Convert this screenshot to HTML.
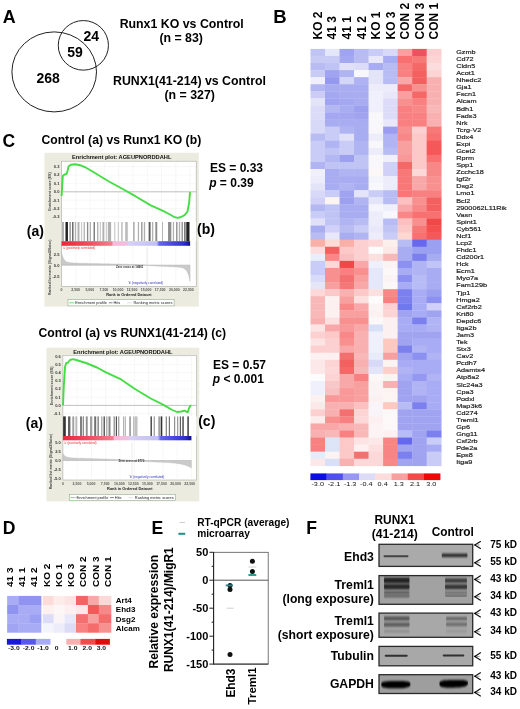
<!DOCTYPE html>
<html><head><meta charset="utf-8"><title>Figure</title>
<style>
html,body{margin:0;padding:0;background:#fff;}
body{width:520px;height:709px;overflow:hidden;font-family:'Liberation Sans', sans-serif;}
svg{display:block;will-change:transform;}
</style></head>
<body>
<svg width="520" height="709" viewBox="0 0 520 709" font-family="'Liberation Sans', sans-serif">
<rect width="520" height="709" fill="#fff"/>
<text x="2.8" y="22.8" font-size="17.9" font-weight="bold">A</text>
<text x="273.3" y="22.9" font-size="18.5" font-weight="bold">B</text>
<text x="2.6" y="147.4" font-size="17.5" font-weight="bold">C</text>
<text x="2.7" y="534" font-size="17.6" font-weight="bold">D</text>
<text x="151.5" y="534" font-size="17.6" font-weight="bold">E</text>
<text x="306.3" y="534" font-size="17.6" font-weight="bold">F</text>
<ellipse cx="83.35" cy="45.35" rx="25.1" ry="24.8" fill="none" stroke="#222" stroke-width="1"/>
<ellipse cx="54.2" cy="71.9" rx="42.3" ry="40.0" fill="none" stroke="#222" stroke-width="1"/>
<text x="91.2" y="41.3" font-size="14" font-weight="bold" text-anchor="middle">24</text>
<text x="75" y="56.8" font-size="14" font-weight="bold" text-anchor="middle">59</text>
<text x="48.1" y="83" font-size="14" font-weight="bold" text-anchor="middle">268</text>
<text x="181.7" y="27.5" font-size="12.35" font-weight="bold" text-anchor="middle">Runx1 KO vs Control</text>
<text x="181.2" y="41.5" font-size="12.35" font-weight="bold" text-anchor="middle">(n = 83)</text>
<text x="189.5" y="85.2" font-size="12.35" font-weight="bold" text-anchor="middle">RUNX1(41-214) vs Control</text>
<text x="189.7" y="99.2" font-size="12.35" font-weight="bold" text-anchor="middle">(n = 327)</text>
<rect x="310.50" y="48.90" width="14.82" height="7.37" fill="#c0c4f4"/>
<rect x="325.02" y="48.90" width="14.82" height="7.37" fill="#e4e6fa"/>
<rect x="339.54" y="48.90" width="14.82" height="7.37" fill="#a0a4f0"/>
<rect x="354.07" y="48.90" width="14.82" height="7.37" fill="#b8bcf4"/>
<rect x="368.59" y="48.90" width="14.82" height="7.37" fill="#c8ccf6"/>
<rect x="383.11" y="48.90" width="14.82" height="7.37" fill="#d8d8f8"/>
<rect x="397.63" y="48.90" width="14.82" height="7.37" fill="#f8a0a0"/>
<rect x="412.16" y="48.90" width="14.82" height="7.37" fill="#f05060"/>
<rect x="426.68" y="48.90" width="14.82" height="7.37" fill="#fcd0d0"/>
<rect x="310.50" y="55.97" width="14.82" height="7.37" fill="#c8ccf4"/>
<rect x="325.02" y="55.97" width="14.82" height="7.37" fill="#c8ccf4"/>
<rect x="339.54" y="55.97" width="14.82" height="7.37" fill="#a4a8f0"/>
<rect x="354.07" y="55.97" width="14.82" height="7.37" fill="#b8bcf2"/>
<rect x="368.59" y="55.97" width="14.82" height="7.37" fill="#e8e8fa"/>
<rect x="383.11" y="55.97" width="14.82" height="7.37" fill="#a8acf2"/>
<rect x="397.63" y="55.97" width="14.82" height="7.37" fill="#f87070"/>
<rect x="412.16" y="55.97" width="14.82" height="7.37" fill="#f87878"/>
<rect x="426.68" y="55.97" width="14.82" height="7.37" fill="#fcd4d4"/>
<rect x="310.50" y="63.03" width="14.82" height="7.37" fill="#b8bcf2"/>
<rect x="325.02" y="63.03" width="14.82" height="7.37" fill="#c0c4f4"/>
<rect x="339.54" y="63.03" width="14.82" height="7.37" fill="#e0e0f8"/>
<rect x="354.07" y="63.03" width="14.82" height="7.37" fill="#dcdcf8"/>
<rect x="368.59" y="63.03" width="14.82" height="7.37" fill="#a8acf0"/>
<rect x="383.11" y="63.03" width="14.82" height="7.37" fill="#b8bcf4"/>
<rect x="397.63" y="63.03" width="14.82" height="7.37" fill="#f88080"/>
<rect x="412.16" y="63.03" width="14.82" height="7.37" fill="#f56868"/>
<rect x="426.68" y="63.03" width="14.82" height="7.37" fill="#fcdcdc"/>
<rect x="310.50" y="70.10" width="14.82" height="7.37" fill="#c8ccf4"/>
<rect x="325.02" y="70.10" width="14.82" height="7.37" fill="#a0a4f0"/>
<rect x="339.54" y="70.10" width="14.82" height="7.37" fill="#b0b4f2"/>
<rect x="354.07" y="70.10" width="14.82" height="7.37" fill="#f8f8fc"/>
<rect x="368.59" y="70.10" width="14.82" height="7.37" fill="#e4e4f8"/>
<rect x="383.11" y="70.10" width="14.82" height="7.37" fill="#b8bcf4"/>
<rect x="397.63" y="70.10" width="14.82" height="7.37" fill="#f88080"/>
<rect x="412.16" y="70.10" width="14.82" height="7.37" fill="#f46060"/>
<rect x="426.68" y="70.10" width="14.82" height="7.37" fill="#fcd4d4"/>
<rect x="310.50" y="77.16" width="14.82" height="7.37" fill="#f0f0fc"/>
<rect x="325.02" y="77.16" width="14.82" height="7.37" fill="#9498ee"/>
<rect x="339.54" y="77.16" width="14.82" height="7.37" fill="#d4d6f8"/>
<rect x="354.07" y="77.16" width="14.82" height="7.37" fill="#aeb2f2"/>
<rect x="368.59" y="77.16" width="14.82" height="7.37" fill="#e4e4f8"/>
<rect x="383.11" y="77.16" width="14.82" height="7.37" fill="#b8bcf4"/>
<rect x="397.63" y="77.16" width="14.82" height="7.37" fill="#f8a8a8"/>
<rect x="412.16" y="77.16" width="14.82" height="7.37" fill="#f46060"/>
<rect x="426.68" y="77.16" width="14.82" height="7.37" fill="#f8b0b0"/>
<rect x="310.50" y="84.23" width="14.82" height="7.37" fill="#b4b8f2"/>
<rect x="325.02" y="84.23" width="14.82" height="7.37" fill="#a8acf0"/>
<rect x="339.54" y="84.23" width="14.82" height="7.37" fill="#a8acf0"/>
<rect x="354.07" y="84.23" width="14.82" height="7.37" fill="#a8acf0"/>
<rect x="368.59" y="84.23" width="14.82" height="7.37" fill="#ececfa"/>
<rect x="383.11" y="84.23" width="14.82" height="7.37" fill="#ececfa"/>
<rect x="397.63" y="84.23" width="14.82" height="7.37" fill="#f46868"/>
<rect x="412.16" y="84.23" width="14.82" height="7.37" fill="#f89090"/>
<rect x="426.68" y="84.23" width="14.82" height="7.37" fill="#f8b0b0"/>
<rect x="310.50" y="91.30" width="14.82" height="7.37" fill="#ccccf6"/>
<rect x="325.02" y="91.30" width="14.82" height="7.37" fill="#a4a8f0"/>
<rect x="339.54" y="91.30" width="14.82" height="7.37" fill="#a8acf0"/>
<rect x="354.07" y="91.30" width="14.82" height="7.37" fill="#a8acf0"/>
<rect x="368.59" y="91.30" width="14.82" height="7.37" fill="#f0f0fc"/>
<rect x="383.11" y="91.30" width="14.82" height="7.37" fill="#e8e8fa"/>
<rect x="397.63" y="91.30" width="14.82" height="7.37" fill="#f8a0a0"/>
<rect x="412.16" y="91.30" width="14.82" height="7.37" fill="#f46868"/>
<rect x="426.68" y="91.30" width="14.82" height="7.37" fill="#f8b0b0"/>
<rect x="310.50" y="98.36" width="14.82" height="7.37" fill="#e4e4f8"/>
<rect x="325.02" y="98.36" width="14.82" height="7.37" fill="#a0a4f0"/>
<rect x="339.54" y="98.36" width="14.82" height="7.37" fill="#a4a8f0"/>
<rect x="354.07" y="98.36" width="14.82" height="7.37" fill="#a8acf0"/>
<rect x="368.59" y="98.36" width="14.82" height="7.37" fill="#f0f0fc"/>
<rect x="383.11" y="98.36" width="14.82" height="7.37" fill="#dcdcf8"/>
<rect x="397.63" y="98.36" width="14.82" height="7.37" fill="#f89090"/>
<rect x="412.16" y="98.36" width="14.82" height="7.37" fill="#f88080"/>
<rect x="426.68" y="98.36" width="14.82" height="7.37" fill="#f8b0b0"/>
<rect x="310.50" y="105.43" width="14.82" height="7.37" fill="#dcdcf8"/>
<rect x="325.02" y="105.43" width="14.82" height="7.37" fill="#b4b8f2"/>
<rect x="339.54" y="105.43" width="14.82" height="7.37" fill="#a8acf0"/>
<rect x="354.07" y="105.43" width="14.82" height="7.37" fill="#9ca0ee"/>
<rect x="368.59" y="105.43" width="14.82" height="7.37" fill="#f0f0fc"/>
<rect x="383.11" y="105.43" width="14.82" height="7.37" fill="#dcdcf8"/>
<rect x="397.63" y="105.43" width="14.82" height="7.37" fill="#f88080"/>
<rect x="412.16" y="105.43" width="14.82" height="7.37" fill="#f88888"/>
<rect x="426.68" y="105.43" width="14.82" height="7.37" fill="#f8b8b8"/>
<rect x="310.50" y="112.49" width="14.82" height="7.37" fill="#dcdcf8"/>
<rect x="325.02" y="112.49" width="14.82" height="7.37" fill="#a4a8f0"/>
<rect x="339.54" y="112.49" width="14.82" height="7.37" fill="#a4a8f0"/>
<rect x="354.07" y="112.49" width="14.82" height="7.37" fill="#a0a4ee"/>
<rect x="368.59" y="112.49" width="14.82" height="7.37" fill="#f8f8fc"/>
<rect x="383.11" y="112.49" width="14.82" height="7.37" fill="#dcdcf8"/>
<rect x="397.63" y="112.49" width="14.82" height="7.37" fill="#f88080"/>
<rect x="412.16" y="112.49" width="14.82" height="7.37" fill="#f88080"/>
<rect x="426.68" y="112.49" width="14.82" height="7.37" fill="#f8b0b0"/>
<rect x="310.50" y="119.56" width="14.82" height="7.37" fill="#d8d8f8"/>
<rect x="325.02" y="119.56" width="14.82" height="7.37" fill="#a8acf0"/>
<rect x="339.54" y="119.56" width="14.82" height="7.37" fill="#a8acf0"/>
<rect x="354.07" y="119.56" width="14.82" height="7.37" fill="#a8acf0"/>
<rect x="368.59" y="119.56" width="14.82" height="7.37" fill="#f8f8fc"/>
<rect x="383.11" y="119.56" width="14.82" height="7.37" fill="#e8e8fa"/>
<rect x="397.63" y="119.56" width="14.82" height="7.37" fill="#f88080"/>
<rect x="412.16" y="119.56" width="14.82" height="7.37" fill="#f88080"/>
<rect x="426.68" y="119.56" width="14.82" height="7.37" fill="#f8b0b0"/>
<rect x="310.50" y="126.63" width="14.82" height="7.37" fill="#d8d8f8"/>
<rect x="325.02" y="126.63" width="14.82" height="7.37" fill="#c8ccf6"/>
<rect x="339.54" y="126.63" width="14.82" height="7.37" fill="#b0b4f2"/>
<rect x="354.07" y="126.63" width="14.82" height="7.37" fill="#a8acf0"/>
<rect x="368.59" y="126.63" width="14.82" height="7.37" fill="#f8f8fc"/>
<rect x="383.11" y="126.63" width="14.82" height="7.37" fill="#9c9cf0"/>
<rect x="397.63" y="126.63" width="14.82" height="7.37" fill="#f89090"/>
<rect x="412.16" y="126.63" width="14.82" height="7.37" fill="#fcd0d0"/>
<rect x="426.68" y="126.63" width="14.82" height="7.37" fill="#f87878"/>
<rect x="310.50" y="133.69" width="14.82" height="7.37" fill="#b8bcf2"/>
<rect x="325.02" y="133.69" width="14.82" height="7.37" fill="#c8ccf6"/>
<rect x="339.54" y="133.69" width="14.82" height="7.37" fill="#e0e0f8"/>
<rect x="354.07" y="133.69" width="14.82" height="7.37" fill="#a8acf0"/>
<rect x="368.59" y="133.69" width="14.82" height="7.37" fill="#ececfa"/>
<rect x="383.11" y="133.69" width="14.82" height="7.37" fill="#b0b4f4"/>
<rect x="397.63" y="133.69" width="14.82" height="7.37" fill="#f88888"/>
<rect x="412.16" y="133.69" width="14.82" height="7.37" fill="#fcc8c8"/>
<rect x="426.68" y="133.69" width="14.82" height="7.37" fill="#f87070"/>
<rect x="310.50" y="140.76" width="14.82" height="7.37" fill="#c8ccf6"/>
<rect x="325.02" y="140.76" width="14.82" height="7.37" fill="#b0b4f2"/>
<rect x="339.54" y="140.76" width="14.82" height="7.37" fill="#c8ccf6"/>
<rect x="354.07" y="140.76" width="14.82" height="7.37" fill="#b0b4f2"/>
<rect x="368.59" y="140.76" width="14.82" height="7.37" fill="#f8f8fc"/>
<rect x="383.11" y="140.76" width="14.82" height="7.37" fill="#b0b4f4"/>
<rect x="397.63" y="140.76" width="14.82" height="7.37" fill="#f8a0a0"/>
<rect x="412.16" y="140.76" width="14.82" height="7.37" fill="#fcc8c8"/>
<rect x="426.68" y="140.76" width="14.82" height="7.37" fill="#f45858"/>
<rect x="310.50" y="147.83" width="14.82" height="7.37" fill="#c8ccf6"/>
<rect x="325.02" y="147.83" width="14.82" height="7.37" fill="#c0c4f4"/>
<rect x="339.54" y="147.83" width="14.82" height="7.37" fill="#c8ccf6"/>
<rect x="354.07" y="147.83" width="14.82" height="7.37" fill="#b0b4f2"/>
<rect x="368.59" y="147.83" width="14.82" height="7.37" fill="#ececfa"/>
<rect x="383.11" y="147.83" width="14.82" height="7.37" fill="#b8bcf4"/>
<rect x="397.63" y="147.83" width="14.82" height="7.37" fill="#f8a0a0"/>
<rect x="412.16" y="147.83" width="14.82" height="7.37" fill="#fcc8c8"/>
<rect x="426.68" y="147.83" width="14.82" height="7.37" fill="#f45858"/>
<rect x="310.50" y="154.89" width="14.82" height="7.37" fill="#c8ccf6"/>
<rect x="325.02" y="154.89" width="14.82" height="7.37" fill="#b4b8f2"/>
<rect x="339.54" y="154.89" width="14.82" height="7.37" fill="#9ca0ee"/>
<rect x="354.07" y="154.89" width="14.82" height="7.37" fill="#c0c4f4"/>
<rect x="368.59" y="154.89" width="14.82" height="7.37" fill="#f8f8fc"/>
<rect x="383.11" y="154.89" width="14.82" height="7.37" fill="#f0f0fc"/>
<rect x="397.63" y="154.89" width="14.82" height="7.37" fill="#f89898"/>
<rect x="412.16" y="154.89" width="14.82" height="7.37" fill="#fcc8c8"/>
<rect x="426.68" y="154.89" width="14.82" height="7.37" fill="#f87070"/>
<rect x="310.50" y="161.96" width="14.82" height="7.37" fill="#b0b4f2"/>
<rect x="325.02" y="161.96" width="14.82" height="7.37" fill="#c0c4f4"/>
<rect x="339.54" y="161.96" width="14.82" height="7.37" fill="#c0c4f4"/>
<rect x="354.07" y="161.96" width="14.82" height="7.37" fill="#c0c4f4"/>
<rect x="368.59" y="161.96" width="14.82" height="7.37" fill="#f8f8fc"/>
<rect x="383.11" y="161.96" width="14.82" height="7.37" fill="#d0d0f8"/>
<rect x="397.63" y="161.96" width="14.82" height="7.37" fill="#f46868"/>
<rect x="412.16" y="161.96" width="14.82" height="7.37" fill="#fcc8c8"/>
<rect x="426.68" y="161.96" width="14.82" height="7.37" fill="#f88888"/>
<rect x="310.50" y="169.02" width="14.82" height="7.37" fill="#f0f0fc"/>
<rect x="325.02" y="169.02" width="14.82" height="7.37" fill="#a8acf0"/>
<rect x="339.54" y="169.02" width="14.82" height="7.37" fill="#b0b4f2"/>
<rect x="354.07" y="169.02" width="14.82" height="7.37" fill="#b0b4f2"/>
<rect x="368.59" y="169.02" width="14.82" height="7.37" fill="#fcf8f8"/>
<rect x="383.11" y="169.02" width="14.82" height="7.37" fill="#d0d0f8"/>
<rect x="397.63" y="169.02" width="14.82" height="7.37" fill="#f87878"/>
<rect x="412.16" y="169.02" width="14.82" height="7.37" fill="#fcd8d8"/>
<rect x="426.68" y="169.02" width="14.82" height="7.37" fill="#f88888"/>
<rect x="310.50" y="176.09" width="14.82" height="7.37" fill="#ececfa"/>
<rect x="325.02" y="176.09" width="14.82" height="7.37" fill="#a8acf0"/>
<rect x="339.54" y="176.09" width="14.82" height="7.37" fill="#a8acf0"/>
<rect x="354.07" y="176.09" width="14.82" height="7.37" fill="#a8acf0"/>
<rect x="368.59" y="176.09" width="14.82" height="7.37" fill="#f4f4fc"/>
<rect x="383.11" y="176.09" width="14.82" height="7.37" fill="#ececfa"/>
<rect x="397.63" y="176.09" width="14.82" height="7.37" fill="#f87878"/>
<rect x="412.16" y="176.09" width="14.82" height="7.37" fill="#f8a8a8"/>
<rect x="426.68" y="176.09" width="14.82" height="7.37" fill="#f89090"/>
<rect x="310.50" y="183.16" width="14.82" height="7.37" fill="#e4e4f8"/>
<rect x="325.02" y="183.16" width="14.82" height="7.37" fill="#a8acf0"/>
<rect x="339.54" y="183.16" width="14.82" height="7.37" fill="#b0b4f2"/>
<rect x="354.07" y="183.16" width="14.82" height="7.37" fill="#a8acf0"/>
<rect x="368.59" y="183.16" width="14.82" height="7.37" fill="#f8f8fc"/>
<rect x="383.11" y="183.16" width="14.82" height="7.37" fill="#ececfa"/>
<rect x="397.63" y="183.16" width="14.82" height="7.37" fill="#f87878"/>
<rect x="412.16" y="183.16" width="14.82" height="7.37" fill="#f8a8a8"/>
<rect x="426.68" y="183.16" width="14.82" height="7.37" fill="#f89090"/>
<rect x="310.50" y="190.22" width="14.82" height="7.37" fill="#d8d8f8"/>
<rect x="325.02" y="190.22" width="14.82" height="7.37" fill="#c8ccf6"/>
<rect x="339.54" y="190.22" width="14.82" height="7.37" fill="#a0a4f0"/>
<rect x="354.07" y="190.22" width="14.82" height="7.37" fill="#e4e4f8"/>
<rect x="368.59" y="190.22" width="14.82" height="7.37" fill="#c8ccf6"/>
<rect x="383.11" y="190.22" width="14.82" height="7.37" fill="#b8bcf4"/>
<rect x="397.63" y="190.22" width="14.82" height="7.37" fill="#f87878"/>
<rect x="412.16" y="190.22" width="14.82" height="7.37" fill="#f88080"/>
<rect x="426.68" y="190.22" width="14.82" height="7.37" fill="#f88080"/>
<rect x="310.50" y="197.29" width="14.82" height="7.37" fill="#d0d0f8"/>
<rect x="325.02" y="197.29" width="14.82" height="7.37" fill="#fcf4f0"/>
<rect x="339.54" y="197.29" width="14.82" height="7.37" fill="#9ca0ee"/>
<rect x="354.07" y="197.29" width="14.82" height="7.37" fill="#b0b4f2"/>
<rect x="368.59" y="197.29" width="14.82" height="7.37" fill="#e4e4f8"/>
<rect x="383.11" y="197.29" width="14.82" height="7.37" fill="#b8bcf4"/>
<rect x="397.63" y="197.29" width="14.82" height="7.37" fill="#fcc0c0"/>
<rect x="412.16" y="197.29" width="14.82" height="7.37" fill="#f89090"/>
<rect x="426.68" y="197.29" width="14.82" height="7.37" fill="#f46060"/>
<rect x="310.50" y="204.35" width="14.82" height="7.37" fill="#b4b8f2"/>
<rect x="325.02" y="204.35" width="14.82" height="7.37" fill="#c0c4f4"/>
<rect x="339.54" y="204.35" width="14.82" height="7.37" fill="#a8acf0"/>
<rect x="354.07" y="204.35" width="14.82" height="7.37" fill="#a8acf0"/>
<rect x="368.59" y="204.35" width="14.82" height="7.37" fill="#f4f4fc"/>
<rect x="383.11" y="204.35" width="14.82" height="7.37" fill="#f0f0fc"/>
<rect x="397.63" y="204.35" width="14.82" height="7.37" fill="#f8a8a8"/>
<rect x="412.16" y="204.35" width="14.82" height="7.37" fill="#f88888"/>
<rect x="426.68" y="204.35" width="14.82" height="7.37" fill="#f46060"/>
<rect x="310.50" y="211.42" width="14.82" height="7.37" fill="#c8ccf6"/>
<rect x="325.02" y="211.42" width="14.82" height="7.37" fill="#c0c4f4"/>
<rect x="339.54" y="211.42" width="14.82" height="7.37" fill="#a8acf0"/>
<rect x="354.07" y="211.42" width="14.82" height="7.37" fill="#a8acf0"/>
<rect x="368.59" y="211.42" width="14.82" height="7.37" fill="#ececfa"/>
<rect x="383.11" y="211.42" width="14.82" height="7.37" fill="#f8f8fc"/>
<rect x="397.63" y="211.42" width="14.82" height="7.37" fill="#f88888"/>
<rect x="412.16" y="211.42" width="14.82" height="7.37" fill="#f87070"/>
<rect x="426.68" y="211.42" width="14.82" height="7.37" fill="#f87070"/>
<rect x="310.50" y="218.49" width="14.82" height="7.37" fill="#e0e0f8"/>
<rect x="325.02" y="218.49" width="14.82" height="7.37" fill="#c0c4f4"/>
<rect x="339.54" y="218.49" width="14.82" height="7.37" fill="#b0b4f2"/>
<rect x="354.07" y="218.49" width="14.82" height="7.37" fill="#b8bcf2"/>
<rect x="368.59" y="218.49" width="14.82" height="7.37" fill="#ececfa"/>
<rect x="383.11" y="218.49" width="14.82" height="7.37" fill="#b8bcf4"/>
<rect x="397.63" y="218.49" width="14.82" height="7.37" fill="#fcc0c0"/>
<rect x="412.16" y="218.49" width="14.82" height="7.37" fill="#f89090"/>
<rect x="426.68" y="218.49" width="14.82" height="7.37" fill="#f04848"/>
<rect x="310.50" y="225.55" width="14.82" height="7.37" fill="#a8acf0"/>
<rect x="325.02" y="225.55" width="14.82" height="7.37" fill="#d0d0f8"/>
<rect x="339.54" y="225.55" width="14.82" height="7.37" fill="#b8bcf2"/>
<rect x="354.07" y="225.55" width="14.82" height="7.37" fill="#c8ccf6"/>
<rect x="368.59" y="225.55" width="14.82" height="7.37" fill="#e8e8fa"/>
<rect x="383.11" y="225.55" width="14.82" height="7.37" fill="#c0c4f4"/>
<rect x="397.63" y="225.55" width="14.82" height="7.37" fill="#fcc8c8"/>
<rect x="412.16" y="225.55" width="14.82" height="7.37" fill="#f87878"/>
<rect x="426.68" y="225.55" width="14.82" height="7.37" fill="#f45050"/>
<rect x="310.50" y="232.62" width="14.82" height="7.37" fill="#b8bcf2"/>
<rect x="325.02" y="232.62" width="14.82" height="7.37" fill="#e8e8fa"/>
<rect x="339.54" y="232.62" width="14.82" height="7.37" fill="#a8acf0"/>
<rect x="354.07" y="232.62" width="14.82" height="7.37" fill="#b0b4f2"/>
<rect x="368.59" y="232.62" width="14.82" height="7.37" fill="#ececfa"/>
<rect x="383.11" y="232.62" width="14.82" height="7.37" fill="#c8ccf6"/>
<rect x="397.63" y="232.62" width="14.82" height="7.37" fill="#fcd8d0"/>
<rect x="412.16" y="232.62" width="14.82" height="7.37" fill="#f87070"/>
<rect x="426.68" y="232.62" width="14.82" height="7.37" fill="#f45858"/>
<rect x="310.50" y="239.68" width="14.82" height="7.37" fill="#f8b0a8"/>
<rect x="325.02" y="239.68" width="14.82" height="7.37" fill="#fcdcd4"/>
<rect x="339.54" y="239.68" width="14.82" height="7.37" fill="#f8b0a8"/>
<rect x="354.07" y="239.68" width="14.82" height="7.37" fill="#fcd0d0"/>
<rect x="368.59" y="239.68" width="14.82" height="7.37" fill="#fcd8d8"/>
<rect x="383.11" y="239.68" width="14.82" height="7.37" fill="#fcf0ec"/>
<rect x="397.63" y="239.68" width="14.82" height="7.37" fill="#b8bcf4"/>
<rect x="412.16" y="239.68" width="14.82" height="7.37" fill="#6868ee"/>
<rect x="426.68" y="239.68" width="14.82" height="7.37" fill="#9ca0f0"/>
<rect x="310.50" y="246.75" width="14.82" height="7.37" fill="#fcdcdc"/>
<rect x="325.02" y="246.75" width="14.82" height="7.37" fill="#f46060"/>
<rect x="339.54" y="246.75" width="14.82" height="7.37" fill="#fcc8c8"/>
<rect x="354.07" y="246.75" width="14.82" height="7.37" fill="#fcd0d0"/>
<rect x="368.59" y="246.75" width="14.82" height="7.37" fill="#fcfcfc"/>
<rect x="383.11" y="246.75" width="14.82" height="7.37" fill="#fce8e4"/>
<rect x="397.63" y="246.75" width="14.82" height="7.37" fill="#a8acf0"/>
<rect x="412.16" y="246.75" width="14.82" height="7.37" fill="#9ca0f0"/>
<rect x="426.68" y="246.75" width="14.82" height="7.37" fill="#9ca0f0"/>
<rect x="310.50" y="253.82" width="14.82" height="7.37" fill="#e8eefa"/>
<rect x="325.02" y="253.82" width="14.82" height="7.37" fill="#f88888"/>
<rect x="339.54" y="253.82" width="14.82" height="7.37" fill="#f8c0c0"/>
<rect x="354.07" y="253.82" width="14.82" height="7.37" fill="#fcd0d0"/>
<rect x="368.59" y="253.82" width="14.82" height="7.37" fill="#fce0e0"/>
<rect x="383.11" y="253.82" width="14.82" height="7.37" fill="#f8b8b8"/>
<rect x="397.63" y="253.82" width="14.82" height="7.37" fill="#a8acf0"/>
<rect x="412.16" y="253.82" width="14.82" height="7.37" fill="#7c80ee"/>
<rect x="426.68" y="253.82" width="14.82" height="7.37" fill="#a8acf0"/>
<rect x="310.50" y="260.88" width="14.82" height="7.37" fill="#c8ccf6"/>
<rect x="325.02" y="260.88" width="14.82" height="7.37" fill="#fcd8d8"/>
<rect x="339.54" y="260.88" width="14.82" height="7.37" fill="#f04848"/>
<rect x="354.07" y="260.88" width="14.82" height="7.37" fill="#f8a8a8"/>
<rect x="368.59" y="260.88" width="14.82" height="7.37" fill="#eef0fc"/>
<rect x="383.11" y="260.88" width="14.82" height="7.37" fill="#fcf4f4"/>
<rect x="397.63" y="260.88" width="14.82" height="7.37" fill="#8c90f0"/>
<rect x="412.16" y="260.88" width="14.82" height="7.37" fill="#b0b4f4"/>
<rect x="426.68" y="260.88" width="14.82" height="7.37" fill="#c0c4f6"/>
<rect x="310.50" y="267.95" width="14.82" height="7.37" fill="#c8ccf6"/>
<rect x="325.02" y="267.95" width="14.82" height="7.37" fill="#f89090"/>
<rect x="339.54" y="267.95" width="14.82" height="7.37" fill="#f88080"/>
<rect x="354.07" y="267.95" width="14.82" height="7.37" fill="#f89090"/>
<rect x="368.59" y="267.95" width="14.82" height="7.37" fill="#e4e8fa"/>
<rect x="383.11" y="267.95" width="14.82" height="7.37" fill="#fcf8f8"/>
<rect x="397.63" y="267.95" width="14.82" height="7.37" fill="#a8acf4"/>
<rect x="412.16" y="267.95" width="14.82" height="7.37" fill="#b0b4f4"/>
<rect x="426.68" y="267.95" width="14.82" height="7.37" fill="#a8acf2"/>
<rect x="310.50" y="275.02" width="14.82" height="7.37" fill="#d8dcf8"/>
<rect x="325.02" y="275.02" width="14.82" height="7.37" fill="#f89090"/>
<rect x="339.54" y="275.02" width="14.82" height="7.37" fill="#f47070"/>
<rect x="354.07" y="275.02" width="14.82" height="7.37" fill="#f8a0a0"/>
<rect x="368.59" y="275.02" width="14.82" height="7.37" fill="#e4e8fa"/>
<rect x="383.11" y="275.02" width="14.82" height="7.37" fill="#fcf4f4"/>
<rect x="397.63" y="275.02" width="14.82" height="7.37" fill="#8c90f0"/>
<rect x="412.16" y="275.02" width="14.82" height="7.37" fill="#b8bcf6"/>
<rect x="426.68" y="275.02" width="14.82" height="7.37" fill="#a8acf2"/>
<rect x="310.50" y="282.08" width="14.82" height="7.37" fill="#e4e6f8"/>
<rect x="325.02" y="282.08" width="14.82" height="7.37" fill="#f8a0a0"/>
<rect x="339.54" y="282.08" width="14.82" height="7.37" fill="#f47878"/>
<rect x="354.07" y="282.08" width="14.82" height="7.37" fill="#f8a8a8"/>
<rect x="368.59" y="282.08" width="14.82" height="7.37" fill="#e4e8fa"/>
<rect x="383.11" y="282.08" width="14.82" height="7.37" fill="#fcf8f8"/>
<rect x="397.63" y="282.08" width="14.82" height="7.37" fill="#a8acf4"/>
<rect x="412.16" y="282.08" width="14.82" height="7.37" fill="#b8bcf6"/>
<rect x="426.68" y="282.08" width="14.82" height="7.37" fill="#a8acf2"/>
<rect x="310.50" y="289.15" width="14.82" height="7.37" fill="#fcd8d8"/>
<rect x="325.02" y="289.15" width="14.82" height="7.37" fill="#fcc8c8"/>
<rect x="339.54" y="289.15" width="14.82" height="7.37" fill="#f8b0b0"/>
<rect x="354.07" y="289.15" width="14.82" height="7.37" fill="#fcc8c8"/>
<rect x="368.59" y="289.15" width="14.82" height="7.37" fill="#fce0e0"/>
<rect x="383.11" y="289.15" width="14.82" height="7.37" fill="#f88888"/>
<rect x="397.63" y="289.15" width="14.82" height="7.37" fill="#7c80ee"/>
<rect x="412.16" y="289.15" width="14.82" height="7.37" fill="#a8acf4"/>
<rect x="426.68" y="289.15" width="14.82" height="7.37" fill="#9ca0f0"/>
<rect x="310.50" y="296.21" width="14.82" height="7.37" fill="#f8b8b8"/>
<rect x="325.02" y="296.21" width="14.82" height="7.37" fill="#fcf0f0"/>
<rect x="339.54" y="296.21" width="14.82" height="7.37" fill="#f8a0a0"/>
<rect x="354.07" y="296.21" width="14.82" height="7.37" fill="#fce0e0"/>
<rect x="368.59" y="296.21" width="14.82" height="7.37" fill="#fcfcfc"/>
<rect x="383.11" y="296.21" width="14.82" height="7.37" fill="#f88080"/>
<rect x="397.63" y="296.21" width="14.82" height="7.37" fill="#7c80ee"/>
<rect x="412.16" y="296.21" width="14.82" height="7.37" fill="#a8acf4"/>
<rect x="426.68" y="296.21" width="14.82" height="7.37" fill="#8c90f0"/>
<rect x="310.50" y="303.28" width="14.82" height="7.37" fill="#f8b8b8"/>
<rect x="325.02" y="303.28" width="14.82" height="7.37" fill="#fcf0f0"/>
<rect x="339.54" y="303.28" width="14.82" height="7.37" fill="#f88888"/>
<rect x="354.07" y="303.28" width="14.82" height="7.37" fill="#f8a8a8"/>
<rect x="368.59" y="303.28" width="14.82" height="7.37" fill="#fcf4f4"/>
<rect x="383.11" y="303.28" width="14.82" height="7.37" fill="#fcd0d0"/>
<rect x="397.63" y="303.28" width="14.82" height="7.37" fill="#7078ee"/>
<rect x="412.16" y="303.28" width="14.82" height="7.37" fill="#a8acf4"/>
<rect x="426.68" y="303.28" width="14.82" height="7.37" fill="#d0d0f8"/>
<rect x="310.50" y="310.35" width="14.82" height="7.37" fill="#f8b8b8"/>
<rect x="325.02" y="310.35" width="14.82" height="7.37" fill="#fcf0f0"/>
<rect x="339.54" y="310.35" width="14.82" height="7.37" fill="#f8a0a0"/>
<rect x="354.07" y="310.35" width="14.82" height="7.37" fill="#f8a0a0"/>
<rect x="368.59" y="310.35" width="14.82" height="7.37" fill="#fcf0f0"/>
<rect x="383.11" y="310.35" width="14.82" height="7.37" fill="#fcd4d4"/>
<rect x="397.63" y="310.35" width="14.82" height="7.37" fill="#a0a4f0"/>
<rect x="412.16" y="310.35" width="14.82" height="7.37" fill="#a8acf4"/>
<rect x="426.68" y="310.35" width="14.82" height="7.37" fill="#a0a4f0"/>
<rect x="310.50" y="317.41" width="14.82" height="7.37" fill="#f8b0b0"/>
<rect x="325.02" y="317.41" width="14.82" height="7.37" fill="#fce0e0"/>
<rect x="339.54" y="317.41" width="14.82" height="7.37" fill="#f89090"/>
<rect x="354.07" y="317.41" width="14.82" height="7.37" fill="#f89090"/>
<rect x="368.59" y="317.41" width="14.82" height="7.37" fill="#fcf8f8"/>
<rect x="383.11" y="317.41" width="14.82" height="7.37" fill="#fcf0f0"/>
<rect x="397.63" y="317.41" width="14.82" height="7.37" fill="#a8acf4"/>
<rect x="412.16" y="317.41" width="14.82" height="7.37" fill="#7c80ee"/>
<rect x="426.68" y="317.41" width="14.82" height="7.37" fill="#b0b4f4"/>
<rect x="310.50" y="324.48" width="14.82" height="7.37" fill="#fce4e4"/>
<rect x="325.02" y="324.48" width="14.82" height="7.37" fill="#f8a8a8"/>
<rect x="339.54" y="324.48" width="14.82" height="7.37" fill="#f89898"/>
<rect x="354.07" y="324.48" width="14.82" height="7.37" fill="#f8a8a8"/>
<rect x="368.59" y="324.48" width="14.82" height="7.37" fill="#d8e0f8"/>
<rect x="383.11" y="324.48" width="14.82" height="7.37" fill="#fcf0f0"/>
<rect x="397.63" y="324.48" width="14.82" height="7.37" fill="#a8acf4"/>
<rect x="412.16" y="324.48" width="14.82" height="7.37" fill="#a8acf4"/>
<rect x="426.68" y="324.48" width="14.82" height="7.37" fill="#b0b4f4"/>
<rect x="310.50" y="331.54" width="14.82" height="7.37" fill="#fcd0d0"/>
<rect x="325.02" y="331.54" width="14.82" height="7.37" fill="#fcc8c8"/>
<rect x="339.54" y="331.54" width="14.82" height="7.37" fill="#f88888"/>
<rect x="354.07" y="331.54" width="14.82" height="7.37" fill="#f8b0b0"/>
<rect x="368.59" y="331.54" width="14.82" height="7.37" fill="#f0f0fc"/>
<rect x="383.11" y="331.54" width="14.82" height="7.37" fill="#fcf0f0"/>
<rect x="397.63" y="331.54" width="14.82" height="7.37" fill="#a0a4f0"/>
<rect x="412.16" y="331.54" width="14.82" height="7.37" fill="#a0a4f0"/>
<rect x="426.68" y="331.54" width="14.82" height="7.37" fill="#a0a4f0"/>
<rect x="310.50" y="338.61" width="14.82" height="7.37" fill="#fce4e4"/>
<rect x="325.02" y="338.61" width="14.82" height="7.37" fill="#fcd0d0"/>
<rect x="339.54" y="338.61" width="14.82" height="7.37" fill="#f89090"/>
<rect x="354.07" y="338.61" width="14.82" height="7.37" fill="#f8b0b0"/>
<rect x="368.59" y="338.61" width="14.82" height="7.37" fill="#f0f0fc"/>
<rect x="383.11" y="338.61" width="14.82" height="7.37" fill="#fcc8c0"/>
<rect x="397.63" y="338.61" width="14.82" height="7.37" fill="#a0a4f0"/>
<rect x="412.16" y="338.61" width="14.82" height="7.37" fill="#a8acf4"/>
<rect x="426.68" y="338.61" width="14.82" height="7.37" fill="#a8acf4"/>
<rect x="310.50" y="345.68" width="14.82" height="7.37" fill="#fcd0d0"/>
<rect x="325.02" y="345.68" width="14.82" height="7.37" fill="#fcd0d0"/>
<rect x="339.54" y="345.68" width="14.82" height="7.37" fill="#f8a8a8"/>
<rect x="354.07" y="345.68" width="14.82" height="7.37" fill="#f8b0b0"/>
<rect x="368.59" y="345.68" width="14.82" height="7.37" fill="#f0f0fc"/>
<rect x="383.11" y="345.68" width="14.82" height="7.37" fill="#fcc8c0"/>
<rect x="397.63" y="345.68" width="14.82" height="7.37" fill="#7c80ee"/>
<rect x="412.16" y="345.68" width="14.82" height="7.37" fill="#b0b4f4"/>
<rect x="426.68" y="345.68" width="14.82" height="7.37" fill="#a8acf4"/>
<rect x="310.50" y="352.74" width="14.82" height="7.37" fill="#fcf0f0"/>
<rect x="325.02" y="352.74" width="14.82" height="7.37" fill="#fcf0f0"/>
<rect x="339.54" y="352.74" width="14.82" height="7.37" fill="#f47070"/>
<rect x="354.07" y="352.74" width="14.82" height="7.37" fill="#f8b8b8"/>
<rect x="368.59" y="352.74" width="14.82" height="7.37" fill="#e8ecfa"/>
<rect x="383.11" y="352.74" width="14.82" height="7.37" fill="#f8a0a0"/>
<rect x="397.63" y="352.74" width="14.82" height="7.37" fill="#a0a4f0"/>
<rect x="412.16" y="352.74" width="14.82" height="7.37" fill="#8c90f0"/>
<rect x="426.68" y="352.74" width="14.82" height="7.37" fill="#b0b4f4"/>
<rect x="310.50" y="359.81" width="14.82" height="7.37" fill="#fce8e8"/>
<rect x="325.02" y="359.81" width="14.82" height="7.37" fill="#fcd4d4"/>
<rect x="339.54" y="359.81" width="14.82" height="7.37" fill="#f46060"/>
<rect x="354.07" y="359.81" width="14.82" height="7.37" fill="#f8b0b0"/>
<rect x="368.59" y="359.81" width="14.82" height="7.37" fill="#d8d8f8"/>
<rect x="383.11" y="359.81" width="14.82" height="7.37" fill="#fcf4f0"/>
<rect x="397.63" y="359.81" width="14.82" height="7.37" fill="#a8acf4"/>
<rect x="412.16" y="359.81" width="14.82" height="7.37" fill="#a8acf4"/>
<rect x="426.68" y="359.81" width="14.82" height="7.37" fill="#a8acf4"/>
<rect x="310.50" y="366.87" width="14.82" height="7.37" fill="#fce8e8"/>
<rect x="325.02" y="366.87" width="14.82" height="7.37" fill="#fcd8d8"/>
<rect x="339.54" y="366.87" width="14.82" height="7.37" fill="#f46868"/>
<rect x="354.07" y="366.87" width="14.82" height="7.37" fill="#f8b8b8"/>
<rect x="368.59" y="366.87" width="14.82" height="7.37" fill="#e4e4f8"/>
<rect x="383.11" y="366.87" width="14.82" height="7.37" fill="#fcd0c8"/>
<rect x="397.63" y="366.87" width="14.82" height="7.37" fill="#b0b4f4"/>
<rect x="412.16" y="366.87" width="14.82" height="7.37" fill="#a8acf4"/>
<rect x="426.68" y="366.87" width="14.82" height="7.37" fill="#a8acf4"/>
<rect x="310.50" y="373.94" width="14.82" height="7.37" fill="#fcfcfc"/>
<rect x="325.02" y="373.94" width="14.82" height="7.37" fill="#fcd4d4"/>
<rect x="339.54" y="373.94" width="14.82" height="7.37" fill="#f8a8a8"/>
<rect x="354.07" y="373.94" width="14.82" height="7.37" fill="#f88080"/>
<rect x="368.59" y="373.94" width="14.82" height="7.37" fill="#fcf8f8"/>
<rect x="383.11" y="373.94" width="14.82" height="7.37" fill="#fcf4f0"/>
<rect x="397.63" y="373.94" width="14.82" height="7.37" fill="#a8acf4"/>
<rect x="412.16" y="373.94" width="14.82" height="7.37" fill="#9498f0"/>
<rect x="426.68" y="373.94" width="14.82" height="7.37" fill="#b0b4f4"/>
<rect x="310.50" y="381.01" width="14.82" height="7.37" fill="#f0f0fc"/>
<rect x="325.02" y="381.01" width="14.82" height="7.37" fill="#f8c8c8"/>
<rect x="339.54" y="381.01" width="14.82" height="7.37" fill="#f8a8a8"/>
<rect x="354.07" y="381.01" width="14.82" height="7.37" fill="#f8a0a0"/>
<rect x="368.59" y="381.01" width="14.82" height="7.37" fill="#fcf4f4"/>
<rect x="383.11" y="381.01" width="14.82" height="7.37" fill="#f8b0b0"/>
<rect x="397.63" y="381.01" width="14.82" height="7.37" fill="#a0a4f0"/>
<rect x="412.16" y="381.01" width="14.82" height="7.37" fill="#b0b4f4"/>
<rect x="426.68" y="381.01" width="14.82" height="7.37" fill="#a8acf4"/>
<rect x="310.50" y="388.07" width="14.82" height="7.37" fill="#f0f0fc"/>
<rect x="325.02" y="388.07" width="14.82" height="7.37" fill="#f8c0c0"/>
<rect x="339.54" y="388.07" width="14.82" height="7.37" fill="#f89898"/>
<rect x="354.07" y="388.07" width="14.82" height="7.37" fill="#f8a0a0"/>
<rect x="368.59" y="388.07" width="14.82" height="7.37" fill="#fcf4f4"/>
<rect x="383.11" y="388.07" width="14.82" height="7.37" fill="#fcf4f0"/>
<rect x="397.63" y="388.07" width="14.82" height="7.37" fill="#a0a4f0"/>
<rect x="412.16" y="388.07" width="14.82" height="7.37" fill="#b0b4f4"/>
<rect x="426.68" y="388.07" width="14.82" height="7.37" fill="#a8acf4"/>
<rect x="310.50" y="395.14" width="14.82" height="7.37" fill="#fcf0f0"/>
<rect x="325.02" y="395.14" width="14.82" height="7.37" fill="#f89898"/>
<rect x="339.54" y="395.14" width="14.82" height="7.37" fill="#f89898"/>
<rect x="354.07" y="395.14" width="14.82" height="7.37" fill="#f8a0a0"/>
<rect x="368.59" y="395.14" width="14.82" height="7.37" fill="#fcf0f0"/>
<rect x="383.11" y="395.14" width="14.82" height="7.37" fill="#fcf4f0"/>
<rect x="397.63" y="395.14" width="14.82" height="7.37" fill="#a0a4f0"/>
<rect x="412.16" y="395.14" width="14.82" height="7.37" fill="#a0a4f0"/>
<rect x="426.68" y="395.14" width="14.82" height="7.37" fill="#a8acf4"/>
<rect x="310.50" y="402.21" width="14.82" height="7.37" fill="#fce8e8"/>
<rect x="325.02" y="402.21" width="14.82" height="7.37" fill="#f8b0b0"/>
<rect x="339.54" y="402.21" width="14.82" height="7.37" fill="#f8b0b0"/>
<rect x="354.07" y="402.21" width="14.82" height="7.37" fill="#fcc0c0"/>
<rect x="368.59" y="402.21" width="14.82" height="7.37" fill="#f8f4f8"/>
<rect x="383.11" y="402.21" width="14.82" height="7.37" fill="#fcc8c0"/>
<rect x="397.63" y="402.21" width="14.82" height="7.37" fill="#b8bcf4"/>
<rect x="412.16" y="402.21" width="14.82" height="7.37" fill="#7c80ee"/>
<rect x="426.68" y="402.21" width="14.82" height="7.37" fill="#a8acf4"/>
<rect x="310.50" y="409.27" width="14.82" height="7.37" fill="#fcd0d0"/>
<rect x="325.02" y="409.27" width="14.82" height="7.37" fill="#f8b0b0"/>
<rect x="339.54" y="409.27" width="14.82" height="7.37" fill="#f47070"/>
<rect x="354.07" y="409.27" width="14.82" height="7.37" fill="#fcd4d4"/>
<rect x="368.59" y="409.27" width="14.82" height="7.37" fill="#f8f4f8"/>
<rect x="383.11" y="409.27" width="14.82" height="7.37" fill="#fcf8f8"/>
<rect x="397.63" y="409.27" width="14.82" height="7.37" fill="#a0a4f0"/>
<rect x="412.16" y="409.27" width="14.82" height="7.37" fill="#a0a4f0"/>
<rect x="426.68" y="409.27" width="14.82" height="7.37" fill="#a0a4f0"/>
<rect x="310.50" y="416.34" width="14.82" height="7.37" fill="#fcecec"/>
<rect x="325.02" y="416.34" width="14.82" height="7.37" fill="#f89090"/>
<rect x="339.54" y="416.34" width="14.82" height="7.37" fill="#f88080"/>
<rect x="354.07" y="416.34" width="14.82" height="7.37" fill="#fcd8d8"/>
<rect x="368.59" y="416.34" width="14.82" height="7.37" fill="#fcf0f0"/>
<rect x="383.11" y="416.34" width="14.82" height="7.37" fill="#fcf8f8"/>
<rect x="397.63" y="416.34" width="14.82" height="7.37" fill="#a0a4f0"/>
<rect x="412.16" y="416.34" width="14.82" height="7.37" fill="#a0a4f0"/>
<rect x="426.68" y="416.34" width="14.82" height="7.37" fill="#a0a4f0"/>
<rect x="310.50" y="423.40" width="14.82" height="7.37" fill="#f8a8a8"/>
<rect x="325.02" y="423.40" width="14.82" height="7.37" fill="#f8a8a8"/>
<rect x="339.54" y="423.40" width="14.82" height="7.37" fill="#f8b0b0"/>
<rect x="354.07" y="423.40" width="14.82" height="7.37" fill="#f8b8b8"/>
<rect x="368.59" y="423.40" width="14.82" height="7.37" fill="#fcf4f4"/>
<rect x="383.11" y="423.40" width="14.82" height="7.37" fill="#fcf8f8"/>
<rect x="397.63" y="423.40" width="14.82" height="7.37" fill="#a0a4f0"/>
<rect x="412.16" y="423.40" width="14.82" height="7.37" fill="#a0a4f0"/>
<rect x="426.68" y="423.40" width="14.82" height="7.37" fill="#a0a4f0"/>
<rect x="310.50" y="430.47" width="14.82" height="7.37" fill="#f8b0b0"/>
<rect x="325.02" y="430.47" width="14.82" height="7.37" fill="#f8b8b8"/>
<rect x="339.54" y="430.47" width="14.82" height="7.37" fill="#f88080"/>
<rect x="354.07" y="430.47" width="14.82" height="7.37" fill="#f8b8b8"/>
<rect x="368.59" y="430.47" width="14.82" height="7.37" fill="#fcf4f4"/>
<rect x="383.11" y="430.47" width="14.82" height="7.37" fill="#fcf0f0"/>
<rect x="397.63" y="430.47" width="14.82" height="7.37" fill="#b8bcf4"/>
<rect x="412.16" y="430.47" width="14.82" height="7.37" fill="#a0a4f0"/>
<rect x="426.68" y="430.47" width="14.82" height="7.37" fill="#7c80ee"/>
<rect x="310.50" y="437.54" width="14.82" height="7.37" fill="#f88080"/>
<rect x="325.02" y="437.54" width="14.82" height="7.37" fill="#dce4f8"/>
<rect x="339.54" y="437.54" width="14.82" height="7.37" fill="#fcc8c8"/>
<rect x="354.07" y="437.54" width="14.82" height="7.37" fill="#fce4e4"/>
<rect x="368.59" y="437.54" width="14.82" height="7.37" fill="#fce8e8"/>
<rect x="383.11" y="437.54" width="14.82" height="7.37" fill="#f88484"/>
<rect x="397.63" y="437.54" width="14.82" height="7.37" fill="#6468ee"/>
<rect x="412.16" y="437.54" width="14.82" height="7.37" fill="#a0a4f0"/>
<rect x="426.68" y="437.54" width="14.82" height="7.37" fill="#c8ccf6"/>
<rect x="310.50" y="444.60" width="14.82" height="7.37" fill="#f88080"/>
<rect x="325.02" y="444.60" width="14.82" height="7.37" fill="#dce4f8"/>
<rect x="339.54" y="444.60" width="14.82" height="7.37" fill="#fcc8c8"/>
<rect x="354.07" y="444.60" width="14.82" height="7.37" fill="#fcf0f0"/>
<rect x="368.59" y="444.60" width="14.82" height="7.37" fill="#fce0e0"/>
<rect x="383.11" y="444.60" width="14.82" height="7.37" fill="#f88484"/>
<rect x="397.63" y="444.60" width="14.82" height="7.37" fill="#a0a4f0"/>
<rect x="412.16" y="444.60" width="14.82" height="7.37" fill="#a0a4f0"/>
<rect x="426.68" y="444.60" width="14.82" height="7.37" fill="#a8acf4"/>
<rect x="310.50" y="451.67" width="14.82" height="7.37" fill="#e4ecfa"/>
<rect x="325.02" y="451.67" width="14.82" height="7.37" fill="#fcf4f4"/>
<rect x="339.54" y="451.67" width="14.82" height="7.37" fill="#fcc8c8"/>
<rect x="354.07" y="451.67" width="14.82" height="7.37" fill="#f47070"/>
<rect x="368.59" y="451.67" width="14.82" height="7.37" fill="#fcd8d8"/>
<rect x="383.11" y="451.67" width="14.82" height="7.37" fill="#f88484"/>
<rect x="397.63" y="451.67" width="14.82" height="7.37" fill="#7c80ee"/>
<rect x="412.16" y="451.67" width="14.82" height="7.37" fill="#a0a4f0"/>
<rect x="426.68" y="451.67" width="14.82" height="7.37" fill="#c8ccf6"/>
<rect x="310.50" y="458.73" width="14.82" height="7.37" fill="#fce8e8"/>
<rect x="325.02" y="458.73" width="14.82" height="7.37" fill="#d8e0f8"/>
<rect x="339.54" y="458.73" width="14.82" height="7.37" fill="#f8b0b0"/>
<rect x="354.07" y="458.73" width="14.82" height="7.37" fill="#fcd8d8"/>
<rect x="368.59" y="458.73" width="14.82" height="7.37" fill="#fcd8d8"/>
<rect x="383.11" y="458.73" width="14.82" height="7.37" fill="#f88888"/>
<rect x="397.63" y="458.73" width="14.82" height="7.37" fill="#a0a4f0"/>
<rect x="412.16" y="458.73" width="14.82" height="7.37" fill="#a0a4f0"/>
<rect x="426.68" y="458.73" width="14.82" height="7.37" fill="#c8ccf6"/>
<text transform="translate(456.2,53.90) scale(1.27,1)" font-size="5.75" fill="#1a1a1a" stroke="#1a1a1a" stroke-width="0.16">Gzmb</text>
<text transform="translate(456.2,60.98) scale(1.27,1)" font-size="5.75" fill="#1a1a1a" stroke="#1a1a1a" stroke-width="0.16">Cd72</text>
<text transform="translate(456.2,68.06) scale(1.27,1)" font-size="5.75" fill="#1a1a1a" stroke="#1a1a1a" stroke-width="0.16">Cldn5</text>
<text transform="translate(456.2,75.13) scale(1.27,1)" font-size="5.75" fill="#1a1a1a" stroke="#1a1a1a" stroke-width="0.16">Acot1</text>
<text transform="translate(456.2,82.21) scale(1.27,1)" font-size="5.75" fill="#1a1a1a" stroke="#1a1a1a" stroke-width="0.16">Nhedc2</text>
<text transform="translate(456.2,89.29) scale(1.27,1)" font-size="5.75" fill="#1a1a1a" stroke="#1a1a1a" stroke-width="0.16">Gja1</text>
<text transform="translate(456.2,96.37) scale(1.27,1)" font-size="5.75" fill="#1a1a1a" stroke="#1a1a1a" stroke-width="0.16">Fscn1</text>
<text transform="translate(456.2,103.45) scale(1.27,1)" font-size="5.75" fill="#1a1a1a" stroke="#1a1a1a" stroke-width="0.16">Alcam</text>
<text transform="translate(456.2,110.52) scale(1.27,1)" font-size="5.75" fill="#1a1a1a" stroke="#1a1a1a" stroke-width="0.16">Bdh1</text>
<text transform="translate(456.2,117.60) scale(1.27,1)" font-size="5.75" fill="#1a1a1a" stroke="#1a1a1a" stroke-width="0.16">Fads3</text>
<text transform="translate(456.2,124.68) scale(1.27,1)" font-size="5.75" fill="#1a1a1a" stroke="#1a1a1a" stroke-width="0.16">Nrk</text>
<text transform="translate(456.2,131.76) scale(1.27,1)" font-size="5.75" fill="#1a1a1a" stroke="#1a1a1a" stroke-width="0.16">Tcrg-V2</text>
<text transform="translate(456.2,138.84) scale(1.27,1)" font-size="5.75" fill="#1a1a1a" stroke="#1a1a1a" stroke-width="0.16">Ddx4</text>
<text transform="translate(456.2,145.91) scale(1.27,1)" font-size="5.75" fill="#1a1a1a" stroke="#1a1a1a" stroke-width="0.16">Expi</text>
<text transform="translate(456.2,152.99) scale(1.27,1)" font-size="5.75" fill="#1a1a1a" stroke="#1a1a1a" stroke-width="0.16">Gcet2</text>
<text transform="translate(456.2,160.07) scale(1.27,1)" font-size="5.75" fill="#1a1a1a" stroke="#1a1a1a" stroke-width="0.16">Rprm</text>
<text transform="translate(456.2,167.15) scale(1.27,1)" font-size="5.75" fill="#1a1a1a" stroke="#1a1a1a" stroke-width="0.16">Spp1</text>
<text transform="translate(456.2,174.23) scale(1.27,1)" font-size="5.75" fill="#1a1a1a" stroke="#1a1a1a" stroke-width="0.16">Zcchc18</text>
<text transform="translate(456.2,181.30) scale(1.27,1)" font-size="5.75" fill="#1a1a1a" stroke="#1a1a1a" stroke-width="0.16">Igf2r</text>
<text transform="translate(456.2,188.38) scale(1.27,1)" font-size="5.75" fill="#1a1a1a" stroke="#1a1a1a" stroke-width="0.16">Dsg2</text>
<text transform="translate(456.2,195.46) scale(1.27,1)" font-size="5.75" fill="#1a1a1a" stroke="#1a1a1a" stroke-width="0.16">Lmo1</text>
<text transform="translate(456.2,202.54) scale(1.27,1)" font-size="5.75" fill="#1a1a1a" stroke="#1a1a1a" stroke-width="0.16">Bcl2</text>
<text transform="translate(456.2,209.62) scale(1.27,1)" font-size="5.75" fill="#1a1a1a" stroke="#1a1a1a" stroke-width="0.16">2900062L11Rik</text>
<text transform="translate(456.2,216.69) scale(1.27,1)" font-size="5.75" fill="#1a1a1a" stroke="#1a1a1a" stroke-width="0.16">Vasn</text>
<text transform="translate(456.2,223.77) scale(1.27,1)" font-size="5.75" fill="#1a1a1a" stroke="#1a1a1a" stroke-width="0.16">Spint1</text>
<text transform="translate(456.2,230.85) scale(1.27,1)" font-size="5.75" fill="#1a1a1a" stroke="#1a1a1a" stroke-width="0.16">Cyb561</text>
<text transform="translate(456.2,237.93) scale(1.27,1)" font-size="5.75" fill="#1a1a1a" stroke="#1a1a1a" stroke-width="0.16">Ncf1</text>
<text transform="translate(456.2,245.01) scale(1.27,1)" font-size="5.75" fill="#1a1a1a" stroke="#1a1a1a" stroke-width="0.16">Lcp2</text>
<text transform="translate(456.2,252.08) scale(1.27,1)" font-size="5.75" fill="#1a1a1a" stroke="#1a1a1a" stroke-width="0.16">Fhdc1</text>
<text transform="translate(456.2,259.16) scale(1.27,1)" font-size="5.75" fill="#1a1a1a" stroke="#1a1a1a" stroke-width="0.16">Cd200r1</text>
<text transform="translate(456.2,266.24) scale(1.27,1)" font-size="5.75" fill="#1a1a1a" stroke="#1a1a1a" stroke-width="0.16">Hck</text>
<text transform="translate(456.2,273.32) scale(1.27,1)" font-size="5.75" fill="#1a1a1a" stroke="#1a1a1a" stroke-width="0.16">Ecm1</text>
<text transform="translate(456.2,280.40) scale(1.27,1)" font-size="5.75" fill="#1a1a1a" stroke="#1a1a1a" stroke-width="0.16">Myo7a</text>
<text transform="translate(456.2,287.47) scale(1.27,1)" font-size="5.75" fill="#1a1a1a" stroke="#1a1a1a" stroke-width="0.16">Fam129b</text>
<text transform="translate(456.2,294.55) scale(1.27,1)" font-size="5.75" fill="#1a1a1a" stroke="#1a1a1a" stroke-width="0.16">Tjp1</text>
<text transform="translate(456.2,301.63) scale(1.27,1)" font-size="5.75" fill="#1a1a1a" stroke="#1a1a1a" stroke-width="0.16">Hmga2</text>
<text transform="translate(456.2,308.71) scale(1.27,1)" font-size="5.75" fill="#1a1a1a" stroke="#1a1a1a" stroke-width="0.16">Csf2rb2</text>
<text transform="translate(456.2,315.79) scale(1.27,1)" font-size="5.75" fill="#1a1a1a" stroke="#1a1a1a" stroke-width="0.16">Krt80</text>
<text transform="translate(456.2,322.86) scale(1.27,1)" font-size="5.75" fill="#1a1a1a" stroke="#1a1a1a" stroke-width="0.16">Depdc6</text>
<text transform="translate(456.2,329.94) scale(1.27,1)" font-size="5.75" fill="#1a1a1a" stroke="#1a1a1a" stroke-width="0.16">Itga2b</text>
<text transform="translate(456.2,337.02) scale(1.27,1)" font-size="5.75" fill="#1a1a1a" stroke="#1a1a1a" stroke-width="0.16">Jam3</text>
<text transform="translate(456.2,344.10) scale(1.27,1)" font-size="5.75" fill="#1a1a1a" stroke="#1a1a1a" stroke-width="0.16">Tek</text>
<text transform="translate(456.2,351.18) scale(1.27,1)" font-size="5.75" fill="#1a1a1a" stroke="#1a1a1a" stroke-width="0.16">Stx3</text>
<text transform="translate(456.2,358.25) scale(1.27,1)" font-size="5.75" fill="#1a1a1a" stroke="#1a1a1a" stroke-width="0.16">Cav2</text>
<text transform="translate(456.2,365.33) scale(1.27,1)" font-size="5.75" fill="#1a1a1a" stroke="#1a1a1a" stroke-width="0.16">Pcdh7</text>
<text transform="translate(456.2,372.41) scale(1.27,1)" font-size="5.75" fill="#1a1a1a" stroke="#1a1a1a" stroke-width="0.16">Adamts4</text>
<text transform="translate(456.2,379.49) scale(1.27,1)" font-size="5.75" fill="#1a1a1a" stroke="#1a1a1a" stroke-width="0.16">Atp8a2</text>
<text transform="translate(456.2,386.57) scale(1.27,1)" font-size="5.75" fill="#1a1a1a" stroke="#1a1a1a" stroke-width="0.16">Slc24a3</text>
<text transform="translate(456.2,393.64) scale(1.27,1)" font-size="5.75" fill="#1a1a1a" stroke="#1a1a1a" stroke-width="0.16">Cpa3</text>
<text transform="translate(456.2,400.72) scale(1.27,1)" font-size="5.75" fill="#1a1a1a" stroke="#1a1a1a" stroke-width="0.16">Podxl</text>
<text transform="translate(456.2,407.80) scale(1.27,1)" font-size="5.75" fill="#1a1a1a" stroke="#1a1a1a" stroke-width="0.16">Map3k6</text>
<text transform="translate(456.2,414.88) scale(1.27,1)" font-size="5.75" fill="#1a1a1a" stroke="#1a1a1a" stroke-width="0.16">Cd274</text>
<text transform="translate(456.2,421.96) scale(1.27,1)" font-size="5.75" fill="#1a1a1a" stroke="#1a1a1a" stroke-width="0.16">Treml1</text>
<text transform="translate(456.2,429.03) scale(1.27,1)" font-size="5.75" fill="#1a1a1a" stroke="#1a1a1a" stroke-width="0.16">Gp6</text>
<text transform="translate(456.2,436.11) scale(1.27,1)" font-size="5.75" fill="#1a1a1a" stroke="#1a1a1a" stroke-width="0.16">Gng11</text>
<text transform="translate(456.2,443.19) scale(1.27,1)" font-size="5.75" fill="#1a1a1a" stroke="#1a1a1a" stroke-width="0.16">Csf2rb</text>
<text transform="translate(456.2,450.27) scale(1.27,1)" font-size="5.75" fill="#1a1a1a" stroke="#1a1a1a" stroke-width="0.16">Pde2a</text>
<text transform="translate(456.2,457.35) scale(1.27,1)" font-size="5.75" fill="#1a1a1a" stroke="#1a1a1a" stroke-width="0.16">Eps8</text>
<text transform="translate(456.2,464.42) scale(1.27,1)" font-size="5.75" fill="#1a1a1a" stroke="#1a1a1a" stroke-width="0.16">Itga9</text>
<text transform="translate(321.96,39.5) rotate(-90)" font-size="12" font-weight="bold">KO 2</text>
<text transform="translate(336.48,39.5) rotate(-90)" font-size="12" font-weight="bold">41 3</text>
<text transform="translate(351.01,39.5) rotate(-90)" font-size="12" font-weight="bold">41 1</text>
<text transform="translate(365.53,39.5) rotate(-90)" font-size="12" font-weight="bold">41 2</text>
<text transform="translate(380.05,39.5) rotate(-90)" font-size="12" font-weight="bold">KO 1</text>
<text transform="translate(394.57,39.5) rotate(-90)" font-size="12" font-weight="bold">KO 3</text>
<text transform="translate(409.09,39.5) rotate(-90)" font-size="12" font-weight="bold">CON 2</text>
<text transform="translate(423.62,39.5) rotate(-90)" font-size="12" font-weight="bold">CON 3</text>
<text transform="translate(438.14,39.5) rotate(-90)" font-size="12" font-weight="bold">CON 1</text>
<rect x="310.40" y="473.4" width="16.43" height="6.7" fill="#0c0ce4"/>
<text transform="translate(317.71,485.6) scale(1.3,1)" font-size="5.6" text-anchor="middle" fill="#111">-3.0</text>
<rect x="326.62" y="473.4" width="16.43" height="6.7" fill="#5050f0"/>
<text transform="translate(333.94,485.6) scale(1.3,1)" font-size="5.6" text-anchor="middle" fill="#111">-2.1</text>
<rect x="342.85" y="473.4" width="16.43" height="6.7" fill="#9898f4"/>
<text transform="translate(350.16,485.6) scale(1.3,1)" font-size="5.6" text-anchor="middle" fill="#111">-1.3</text>
<rect x="359.07" y="473.4" width="16.43" height="6.7" fill="#dcdcf8"/>
<text transform="translate(366.39,485.6) scale(1.3,1)" font-size="5.6" text-anchor="middle" fill="#111">-0.4</text>
<rect x="375.30" y="473.4" width="16.43" height="6.7" fill="#fcdcdc"/>
<text transform="translate(382.61,485.6) scale(1.3,1)" font-size="5.6" text-anchor="middle" fill="#111">0.4</text>
<rect x="391.52" y="473.4" width="16.43" height="6.7" fill="#f8a0a0"/>
<text transform="translate(398.84,485.6) scale(1.3,1)" font-size="5.6" text-anchor="middle" fill="#111">1.3</text>
<rect x="407.75" y="473.4" width="16.43" height="6.7" fill="#f44a4a"/>
<text transform="translate(415.06,485.6) scale(1.3,1)" font-size="5.6" text-anchor="middle" fill="#111">2.1</text>
<rect x="423.98" y="473.4" width="16.43" height="6.7" fill="#f00808"/>
<text transform="translate(431.29,485.6) scale(1.3,1)" font-size="5.6" text-anchor="middle" fill="#111">3.0</text>
<text x="41.4" y="143.8" font-size="12.2" font-weight="bold">Control (a) vs Runx1 KO (b)</text>
<text x="38.5" y="336.6" font-size="12.2" font-weight="bold">Control (a) vs RUNX1(41-214) (c)</text>
<rect x="44.5" y="152.8" width="154.3" height="153.8" fill="#ecebdf"/>
<text x="121.7" y="158.7" font-size="5.7" font-weight="bold" text-anchor="middle" fill="#111">Enrichment plot: AGEUPNORDDAHL</text>
<rect x="61.6" y="161.2" width="134.6" height="125.10000000000002" fill="#fff" stroke="#a8a8a8" stroke-width="0.6"/>
<line x1="75.9" y1="161.2" x2="75.9" y2="286.3" stroke="#eeeeee" stroke-width="0.5"/>
<line x1="90.2" y1="161.2" x2="90.2" y2="286.3" stroke="#eeeeee" stroke-width="0.5"/>
<line x1="104.4" y1="161.2" x2="104.4" y2="286.3" stroke="#eeeeee" stroke-width="0.5"/>
<line x1="118.7" y1="161.2" x2="118.7" y2="286.3" stroke="#eeeeee" stroke-width="0.5"/>
<line x1="133.0" y1="161.2" x2="133.0" y2="286.3" stroke="#eeeeee" stroke-width="0.5"/>
<line x1="147.3" y1="161.2" x2="147.3" y2="286.3" stroke="#eeeeee" stroke-width="0.5"/>
<line x1="161.5" y1="161.2" x2="161.5" y2="286.3" stroke="#eeeeee" stroke-width="0.5"/>
<line x1="175.8" y1="161.2" x2="175.8" y2="286.3" stroke="#eeeeee" stroke-width="0.5"/>
<line x1="190.1" y1="161.2" x2="190.1" y2="286.3" stroke="#eeeeee" stroke-width="0.5"/>
<text x="59.4" y="168.0" font-size="4" font-weight="bold" text-anchor="end" fill="#333">0.3</text>
<line x1="61.6" y1="166.6" x2="196.2" y2="166.6" stroke="#f0f0f0" stroke-width="0.5"/>
<text x="59.4" y="176.4" font-size="4" font-weight="bold" text-anchor="end" fill="#333">0.2</text>
<line x1="61.6" y1="175.0" x2="196.2" y2="175.0" stroke="#f0f0f0" stroke-width="0.5"/>
<text x="59.4" y="184.8" font-size="4" font-weight="bold" text-anchor="end" fill="#333">0.1</text>
<line x1="61.6" y1="183.4" x2="196.2" y2="183.4" stroke="#f0f0f0" stroke-width="0.5"/>
<text x="59.4" y="193.2" font-size="4" font-weight="bold" text-anchor="end" fill="#333">0.0</text>
<line x1="61.6" y1="191.8" x2="196.2" y2="191.8" stroke="#f0f0f0" stroke-width="0.5"/>
<text x="59.4" y="201.6" font-size="4" font-weight="bold" text-anchor="end" fill="#333">-0.1</text>
<line x1="61.6" y1="200.2" x2="196.2" y2="200.2" stroke="#f0f0f0" stroke-width="0.5"/>
<text x="59.4" y="210.0" font-size="4" font-weight="bold" text-anchor="end" fill="#333">-0.2</text>
<line x1="61.6" y1="208.6" x2="196.2" y2="208.6" stroke="#f0f0f0" stroke-width="0.5"/>
<text x="59.4" y="218.4" font-size="4" font-weight="bold" text-anchor="end" fill="#333">-0.3</text>
<line x1="61.6" y1="217.0" x2="196.2" y2="217.0" stroke="#f0f0f0" stroke-width="0.5"/>
<line x1="61.6" y1="191.8" x2="196.2" y2="191.8" stroke="#9a9a9a" stroke-width="0.6"/>
<text transform="translate(51.4,191.6) rotate(-90)" font-size="3.6" font-weight="bold" text-anchor="middle" fill="#444">Enrichment score (ES)</text>
<polyline points="61.6,196.0 62.2,186.0 62.8,176.0 64.5,174.5 66.5,174.0 67.5,171.0 68.5,166.5 70.8,164.8 75.4,164.3 80.0,165.2 86.0,167.7 93.8,172.3 101.5,177.0 109.0,181.5 120.0,187.5 135.4,196.2 150.8,205.4 163.0,210.8 170.0,214.5 173.8,216.8 177.7,217.8 181.0,217.0 184.6,215.2 187.5,211.5 189.2,202.3 190.0,192.0" fill="none" stroke="#44dd44" stroke-width="1.9" stroke-linejoin="round"/>
<rect x="61.6" y="222.0" width="134.6" height="19.19999999999999" fill="#fff"/>
<rect x="61.85" y="222.0" width="2.09" height="19.19999999999999" fill="#b0b0b0"/>
<rect x="65.47" y="222.0" width="2.47" height="19.19999999999999" fill="#222"/>
<rect x="69.44" y="222.0" width="1.33" height="19.19999999999999" fill="#8c8c8c"/>
<rect x="72.13" y="222.0" width="1.33" height="19.19999999999999" fill="#5a5a5a"/>
<rect x="74.83" y="222.0" width="1.33" height="19.19999999999999" fill="#b0b0b0"/>
<rect x="77.55" y="222.0" width="1.90" height="19.19999999999999" fill="#b0b0b0"/>
<rect x="80.93" y="222.0" width="1.23" height="19.19999999999999" fill="#cccccc"/>
<rect x="83.63" y="222.0" width="1.24" height="19.19999999999999" fill="#b0b0b0"/>
<rect x="86.94" y="222.0" width="1.33" height="19.19999999999999" fill="#8c8c8c"/>
<rect x="89.63" y="222.0" width="1.33" height="19.19999999999999" fill="#b0b0b0"/>
<rect x="93.72" y="222.0" width="0.85" height="19.19999999999999" fill="#222"/>
<rect x="97.03" y="222.0" width="1.33" height="19.19999999999999" fill="#b0b0b0"/>
<rect x="99.73" y="222.0" width="1.23" height="19.19999999999999" fill="#cccccc"/>
<rect x="102.45" y="222.0" width="1.90" height="19.19999999999999" fill="#b0b0b0"/>
<rect x="105.83" y="222.0" width="1.23" height="19.19999999999999" fill="#cccccc"/>
<rect x="107.88" y="222.0" width="3.23" height="19.19999999999999" fill="#b0b0b0"/>
<rect x="114.45" y="222.0" width="0.80" height="19.19999999999999" fill="#b0b0b0"/>
<rect x="117.85" y="222.0" width="0.80" height="19.19999999999999" fill="#b0b0b0"/>
<rect x="121.33" y="222.0" width="1.23" height="19.19999999999999" fill="#b0b0b0"/>
<rect x="125.33" y="222.0" width="1.23" height="19.19999999999999" fill="#b0b0b0"/>
<rect x="126.33" y="222.0" width="1.33" height="19.19999999999999" fill="#b0b0b0"/>
<rect x="133.04" y="222.0" width="1.61" height="19.19999999999999" fill="#b0b0b0"/>
<rect x="137.83" y="222.0" width="1.23" height="19.19999999999999" fill="#b0b0b0"/>
<rect x="141.23" y="222.0" width="1.24" height="19.19999999999999" fill="#8c8c8c"/>
<rect x="143.84" y="222.0" width="1.33" height="19.19999999999999" fill="#b0b0b0"/>
<rect x="148.65" y="222.0" width="1.90" height="19.19999999999999" fill="#5a5a5a"/>
<rect x="151.94" y="222.0" width="1.33" height="19.19999999999999" fill="#b0b0b0"/>
<rect x="155.35" y="222.0" width="1.90" height="19.19999999999999" fill="#8c8c8c"/>
<rect x="162.03" y="222.0" width="0.95" height="19.19999999999999" fill="#b0b0b0"/>
<rect x="168.08" y="222.0" width="3.23" height="19.19999999999999" fill="#8c8c8c"/>
<rect x="172.83" y="222.0" width="1.23" height="19.19999999999999" fill="#b0b0b0"/>
<rect x="176.14" y="222.0" width="1.33" height="19.19999999999999" fill="#8c8c8c"/>
<rect x="178.84" y="222.0" width="1.33" height="19.19999999999999" fill="#b0b0b0"/>
<rect x="181.53" y="222.0" width="1.33" height="19.19999999999999" fill="#8c8c8c"/>
<rect x="184.23" y="222.0" width="1.33" height="19.19999999999999" fill="#5a5a5a"/>
<rect x="186.28" y="222.0" width="3.23" height="19.19999999999999" fill="#222"/>
<defs><linearGradient id="g152" x1="0" x2="1" y1="0" y2="0" gradientUnits="objectBoundingBox"><stop offset="0" stop-color="#e8283a"/><stop offset="0.2" stop-color="#ee4c5c"/><stop offset="0.39" stop-color="#f47c8c"/><stop offset="0.40" stop-color="#f8b8d8"/><stop offset="0.51" stop-color="#f0c0e0"/><stop offset="0.52" stop-color="#d8d0f4"/><stop offset="0.74" stop-color="#c0c0f4"/><stop offset="0.76" stop-color="#6464f0"/><stop offset="0.95" stop-color="#3030d0"/><stop offset="1" stop-color="#101090"/></linearGradient></defs>
<rect x="61.6" y="241.2" width="128.5" height="4.6" fill="url(#g152)"/>
<text x="62.6" y="249.4" font-size="3.05" fill="#e03030">'a' (positively correlated)</text>
<path d="M61.6,265.2 L61.6,253.2 L63.21,257.85 L64.81,260.41 L66.42,261.63 L68.03,262.24 L69.63,262.56 L71.24,262.75 L72.84,262.87 L74.45,262.96 L76.06,263.03 L77.66,263.09 L79.27,263.14 L80.88,263.19 L82.48,263.24 L84.09,263.28 L85.69,263.32 L87.30,263.36 L88.91,263.40 L90.51,263.43 L92.12,263.47 L93.72,263.51 L95.33,263.54 L96.94,263.58 L98.54,263.61 L100.15,263.65 L101.76,263.68 L103.36,263.72 L104.97,263.75 L106.58,263.78 L108.18,263.82 L109.79,263.86 L111.39,263.89 L113.00,263.93 L114.61,263.96 L116.21,264.00 L117.82,264.04 L119.43,264.08 L121.03,264.12 L122.64,264.16 L124.24,264.20 L125.85,264.25 L127.46,264.29 L129.06,264.34 L130.67,264.38 L132.28,264.43 L133.88,264.48 L135.49,264.54 L137.09,264.59 L138.70,264.65 L140.31,264.72 L141.91,264.79 L143.52,264.87 L145.12,264.97 L146.73,265.12 L148.34,265.47 L149.94,265.64 L151.55,265.77 L153.16,265.88 L154.76,265.98 L156.37,266.08 L157.97,266.17 L159.58,266.25 L161.19,266.33 L162.79,266.40 L164.40,266.48 L166.01,266.55 L167.61,266.61 L169.22,266.68 L170.82,266.75 L172.43,266.82 L174.04,266.89 L175.64,266.97 L177.25,267.07 L178.86,267.21 L180.46,267.42 L182.07,267.76 L183.68,268.35 L185.28,269.40 L186.89,271.31 L188.49,274.84 L190.10,281.40 L190.1,265.2 Z" fill="#cacaca" stroke="#b4b4b4" stroke-width="0.3"/>
<line x1="147.1" y1="247.8" x2="147.1" y2="286.3" stroke="#d8d8d8" stroke-width="0.5"/>
<line x1="61.6" y1="265.2" x2="190.1" y2="265.2" stroke="#b0b0b0" stroke-width="0.4"/>
<text x="59.4" y="255.6" font-size="4" font-weight="bold" text-anchor="end" fill="#333">2.5</text>
<text x="59.4" y="266.6" font-size="4" font-weight="bold" text-anchor="end" fill="#333">0.0</text>
<text x="59.4" y="277.6" font-size="4" font-weight="bold" text-anchor="end" fill="#333">-2.5</text>
<text x="116.0" y="268.0" font-size="2.95" fill="#333" font-weight="bold">Zero cross at 14961</text>
<text x="128.2" y="283.9" font-size="3.15" fill="#3030c0">'b' (negatively correlated)</text>
<text transform="translate(51.0,267.4) rotate(-90)" font-size="3.5" font-weight="bold" text-anchor="middle" fill="#444">Ranked list metric (Signal2Noise)</text>
<text x="61.6" y="291.4" font-size="3.5" text-anchor="middle" fill="#555" font-weight="bold">0</text>
<text x="75.7" y="291.4" font-size="3.5" text-anchor="middle" fill="#555" font-weight="bold">2,500</text>
<text x="89.8" y="291.4" font-size="3.5" text-anchor="middle" fill="#555" font-weight="bold">5,000</text>
<text x="103.9" y="291.4" font-size="3.5" text-anchor="middle" fill="#555" font-weight="bold">7,500</text>
<text x="118.0" y="291.4" font-size="3.5" text-anchor="middle" fill="#555" font-weight="bold">10,000</text>
<text x="132.0" y="291.4" font-size="3.5" text-anchor="middle" fill="#555" font-weight="bold">12,500</text>
<text x="146.1" y="291.4" font-size="3.5" text-anchor="middle" fill="#555" font-weight="bold">15,000</text>
<text x="160.2" y="291.4" font-size="3.5" text-anchor="middle" fill="#555" font-weight="bold">17,500</text>
<text x="174.3" y="291.4" font-size="3.5" text-anchor="middle" fill="#555" font-weight="bold">20,000</text>
<text x="188.4" y="291.4" font-size="3.5" text-anchor="middle" fill="#555" font-weight="bold">22,500</text>
<text x="128.9" y="295.9" font-size="3.9" text-anchor="middle" fill="#222" font-weight="bold">Rank in Ordered Dataset</text>
<rect x="68.0" y="299.5" width="106.1" height="6.4" fill="#fff" stroke="#7aa07a" stroke-width="0.5"/>
<line x1="69.2" y1="302.8" x2="74.3" y2="302.8" stroke="#44dd44" stroke-width="0.8"/>
<text x="75.3" y="304.1" font-size="3.95" fill="#222">Enrichment profile</text>
<line x1="108.9" y1="302.8" x2="112.5" y2="302.8" stroke="#222" stroke-width="0.6"/>
<text x="113.5" y="304.1" font-size="3.95" fill="#222">Hits</text>
<line x1="127.0" y1="302.8" x2="132.0" y2="302.8" stroke="#ccc" stroke-width="0.6"/>
<text x="133.5" y="304.1" font-size="3.95" fill="#222">Ranking metric scores</text>
<rect x="46.5" y="347.7" width="152.8" height="153.7" fill="#ecebdf"/>
<text x="122.9" y="353.6" font-size="5.7" font-weight="bold" text-anchor="middle" fill="#111">Enrichment plot: AGEUPNORDDAHL</text>
<rect x="62.9" y="355.4" width="133.7" height="124.60000000000002" fill="#fff" stroke="#a8a8a8" stroke-width="0.6"/>
<line x1="77.2" y1="355.4" x2="77.2" y2="480.0" stroke="#eeeeee" stroke-width="0.5"/>
<line x1="91.5" y1="355.4" x2="91.5" y2="480.0" stroke="#eeeeee" stroke-width="0.5"/>
<line x1="105.7" y1="355.4" x2="105.7" y2="480.0" stroke="#eeeeee" stroke-width="0.5"/>
<line x1="120.0" y1="355.4" x2="120.0" y2="480.0" stroke="#eeeeee" stroke-width="0.5"/>
<line x1="134.3" y1="355.4" x2="134.3" y2="480.0" stroke="#eeeeee" stroke-width="0.5"/>
<line x1="148.6" y1="355.4" x2="148.6" y2="480.0" stroke="#eeeeee" stroke-width="0.5"/>
<line x1="162.8" y1="355.4" x2="162.8" y2="480.0" stroke="#eeeeee" stroke-width="0.5"/>
<line x1="177.1" y1="355.4" x2="177.1" y2="480.0" stroke="#eeeeee" stroke-width="0.5"/>
<line x1="191.4" y1="355.4" x2="191.4" y2="480.0" stroke="#eeeeee" stroke-width="0.5"/>
<text x="60.699999999999996" y="357.6" font-size="4" font-weight="bold" text-anchor="end" fill="#333">0.6</text>
<line x1="62.9" y1="356.2" x2="196.6" y2="356.2" stroke="#f0f0f0" stroke-width="0.5"/>
<text x="60.699999999999996" y="365.8" font-size="4" font-weight="bold" text-anchor="end" fill="#333">0.5</text>
<line x1="62.9" y1="364.4" x2="196.6" y2="364.4" stroke="#f0f0f0" stroke-width="0.5"/>
<text x="60.699999999999996" y="374.0" font-size="4" font-weight="bold" text-anchor="end" fill="#333">0.4</text>
<line x1="62.9" y1="372.6" x2="196.6" y2="372.6" stroke="#f0f0f0" stroke-width="0.5"/>
<text x="60.699999999999996" y="382.2" font-size="4" font-weight="bold" text-anchor="end" fill="#333">0.3</text>
<line x1="62.9" y1="380.8" x2="196.6" y2="380.8" stroke="#f0f0f0" stroke-width="0.5"/>
<text x="60.699999999999996" y="390.4" font-size="4" font-weight="bold" text-anchor="end" fill="#333">0.2</text>
<line x1="62.9" y1="389.0" x2="196.6" y2="389.0" stroke="#f0f0f0" stroke-width="0.5"/>
<text x="60.699999999999996" y="398.6" font-size="4" font-weight="bold" text-anchor="end" fill="#333">0.1</text>
<line x1="62.9" y1="397.2" x2="196.6" y2="397.2" stroke="#f0f0f0" stroke-width="0.5"/>
<text x="60.699999999999996" y="406.8" font-size="4" font-weight="bold" text-anchor="end" fill="#333">0.0</text>
<line x1="62.9" y1="405.4" x2="196.6" y2="405.4" stroke="#f0f0f0" stroke-width="0.5"/>
<text x="60.699999999999996" y="415.0" font-size="4" font-weight="bold" text-anchor="end" fill="#333">-0.1</text>
<line x1="62.9" y1="413.6" x2="196.6" y2="413.6" stroke="#f0f0f0" stroke-width="0.5"/>
<line x1="62.9" y1="405.4" x2="196.6" y2="405.4" stroke="#9a9a9a" stroke-width="0.6"/>
<text transform="translate(52.7,385.9) rotate(-90)" font-size="3.6" font-weight="bold" text-anchor="middle" fill="#444">Enrichment score (ES)</text>
<polyline points="63.0,405.4 63.8,386.0 65.0,367.0 66.2,363.0 67.7,362.8 70.0,360.0 73.0,359.2 76.2,360.0 86.0,363.0 97.0,367.5 106.0,372.3 120.0,378.8 135.4,389.2 150.8,398.5 163.0,404.6 172.3,410.0 177.0,412.0 181.5,411.5 184.6,410.6 187.7,412.3 189.2,407.7 191.0,405.0" fill="none" stroke="#44dd44" stroke-width="1.9" stroke-linejoin="round"/>
<rect x="62.9" y="416.4" width="133.7" height="19.600000000000023" fill="#fff"/>
<rect x="63.10" y="416.4" width="2.70" height="19.600000000000023" fill="#333"/>
<rect x="68.00" y="416.4" width="2.40" height="19.600000000000023" fill="#606060"/>
<rect x="72.30" y="416.4" width="1.90" height="19.600000000000023" fill="#a0a0a0"/>
<rect x="75.40" y="416.4" width="1.90" height="19.600000000000023" fill="#b8b8b8"/>
<rect x="80.00" y="416.4" width="2.30" height="19.600000000000023" fill="#808080"/>
<rect x="83.00" y="416.4" width="0.80" height="19.600000000000023" fill="#707070"/>
<rect x="85.80" y="416.4" width="1.90" height="19.600000000000023" fill="#909090"/>
<rect x="90.00" y="416.4" width="2.30" height="19.600000000000023" fill="#a0a0a0"/>
<rect x="94.20" y="416.4" width="2.00" height="19.600000000000023" fill="#707070"/>
<rect x="97.40" y="416.4" width="1.60" height="19.600000000000023" fill="#909090"/>
<rect x="101.20" y="416.4" width="1.20" height="19.600000000000023" fill="#a0a0a0"/>
<rect x="103.50" y="416.4" width="1.50" height="19.600000000000023" fill="#606060"/>
<rect x="106.20" y="416.4" width="1.20" height="19.600000000000023" fill="#a0a0a0"/>
<rect x="108.50" y="416.4" width="2.00" height="19.600000000000023" fill="#888"/>
<rect x="113.50" y="416.4" width="1.50" height="19.600000000000023" fill="#a0a0a0"/>
<rect x="115.80" y="416.4" width="1.20" height="19.600000000000023" fill="#505050"/>
<rect x="118.20" y="416.4" width="1.10" height="19.600000000000023" fill="#909090"/>
<rect x="123.20" y="416.4" width="1.10" height="19.600000000000023" fill="#a0a0a0"/>
<rect x="125.00" y="416.4" width="0.80" height="19.600000000000023" fill="#a8a8a8"/>
<rect x="129.30" y="416.4" width="1.50" height="19.600000000000023" fill="#909090"/>
<rect x="133.20" y="416.4" width="1.10" height="19.600000000000023" fill="#b0b0b0"/>
<rect x="134.50" y="416.4" width="3.00" height="19.600000000000023" fill="#c0c0c0"/>
<rect x="150.50" y="416.4" width="1.40" height="19.600000000000023" fill="#404040"/>
<rect x="153.70" y="416.4" width="1.10" height="19.600000000000023" fill="#909090"/>
<rect x="158.30" y="416.4" width="2.30" height="19.600000000000023" fill="#a0a0a0"/>
<rect x="160.90" y="416.4" width="1.40" height="19.600000000000023" fill="#303030"/>
<rect x="165.70" y="416.4" width="1.20" height="19.600000000000023" fill="#808080"/>
<rect x="168.80" y="416.4" width="1.20" height="19.600000000000023" fill="#707070"/>
<rect x="174.00" y="416.4" width="1.20" height="19.600000000000023" fill="#909090"/>
<rect x="177.00" y="416.4" width="1.30" height="19.600000000000023" fill="#a0a0a0"/>
<rect x="179.80" y="416.4" width="1.20" height="19.600000000000023" fill="#606060"/>
<rect x="182.30" y="416.4" width="1.50" height="19.600000000000023" fill="#505050"/>
<rect x="187.20" y="416.4" width="1.80" height="19.600000000000023" fill="#606060"/>
<defs><linearGradient id="g347" x1="0" x2="1" y1="0" y2="0" gradientUnits="objectBoundingBox"><stop offset="0" stop-color="#e8283a"/><stop offset="0.2" stop-color="#ee4c5c"/><stop offset="0.39" stop-color="#f47c8c"/><stop offset="0.40" stop-color="#f8b8d8"/><stop offset="0.51" stop-color="#f0c0e0"/><stop offset="0.52" stop-color="#d8d0f4"/><stop offset="0.74" stop-color="#c0c0f4"/><stop offset="0.76" stop-color="#6464f0"/><stop offset="0.95" stop-color="#3030d0"/><stop offset="1" stop-color="#101090"/></linearGradient></defs>
<rect x="62.9" y="436.0" width="128.5" height="4.3" fill="url(#g347)"/>
<text x="63.9" y="443.9" font-size="3.05" fill="#e03030">'a' (positively correlated)</text>
<path d="M62.9,460.5 L62.9,453.7 L64.51,455.63 L66.11,456.76 L67.72,457.32 L69.33,457.62 L70.93,457.79 L72.54,457.91 L74.14,457.99 L75.75,458.06 L77.36,458.13 L78.96,458.18 L80.57,458.24 L82.17,458.29 L83.78,458.34 L85.39,458.40 L86.99,458.45 L88.60,458.50 L90.21,458.54 L91.81,458.59 L93.42,458.64 L95.03,458.69 L96.63,458.74 L98.24,458.79 L99.84,458.84 L101.45,458.90 L103.06,458.95 L104.66,459.00 L106.27,459.06 L107.88,459.11 L109.48,459.17 L111.09,459.23 L112.69,459.29 L114.30,459.35 L115.91,459.41 L117.51,459.48 L119.12,459.55 L120.72,459.62 L122.33,459.70 L123.94,459.78 L125.54,459.87 L127.15,459.97 L128.76,460.08 L130.36,460.22 L131.97,460.46 L133.58,460.79 L135.18,460.95 L136.79,461.08 L138.39,461.19 L140.00,461.29 L141.61,461.38 L143.21,461.46 L144.82,461.55 L146.43,461.63 L148.03,461.70 L149.64,461.78 L151.24,461.85 L152.85,461.92 L154.46,461.99 L156.06,462.06 L157.67,462.13 L159.28,462.21 L160.88,462.28 L162.49,462.36 L164.09,462.44 L165.70,462.53 L167.31,462.62 L168.91,462.72 L170.52,462.84 L172.12,462.96 L173.73,463.11 L175.34,463.27 L176.94,463.47 L178.55,463.69 L180.16,463.96 L181.76,464.27 L183.37,464.65 L184.97,465.10 L186.58,465.65 L188.19,466.31 L189.79,467.12 L191.40,468.10 L191.4,460.5 Z" fill="#cacaca" stroke="#b4b4b4" stroke-width="0.3"/>
<line x1="132.0" y1="442.3" x2="132.0" y2="480.0" stroke="#d8d8d8" stroke-width="0.5"/>
<line x1="62.9" y1="460.5" x2="191.4" y2="460.5" stroke="#b0b0b0" stroke-width="0.4"/>
<text x="60.699999999999996" y="443.5" font-size="4" font-weight="bold" text-anchor="end" fill="#333">5.0</text>
<text x="60.699999999999996" y="452.7" font-size="4" font-weight="bold" text-anchor="end" fill="#333">2.5</text>
<text x="60.699999999999996" y="461.9" font-size="4" font-weight="bold" text-anchor="end" fill="#333">0.0</text>
<text x="60.699999999999996" y="471.1" font-size="4" font-weight="bold" text-anchor="end" fill="#333">-2.5</text>
<text x="60.699999999999996" y="480.3" font-size="4" font-weight="bold" text-anchor="end" fill="#333">-5.0</text>
<text x="118.5" y="462.4" font-size="2.95" fill="#333" font-weight="bold">Zero cross at 9770</text>
<text x="129.5" y="477.6" font-size="3.15" fill="#3030c0">'b' (negatively correlated)</text>
<text transform="translate(52.3,461.5) rotate(-90)" font-size="3.5" font-weight="bold" text-anchor="middle" fill="#444">Ranked list metric (Signal2Noise)</text>
<text x="62.9" y="485.1" font-size="3.5" text-anchor="middle" fill="#555" font-weight="bold">0</text>
<text x="77.0" y="485.1" font-size="3.5" text-anchor="middle" fill="#555" font-weight="bold">2,500</text>
<text x="91.1" y="485.1" font-size="3.5" text-anchor="middle" fill="#555" font-weight="bold">5,000</text>
<text x="105.2" y="485.1" font-size="3.5" text-anchor="middle" fill="#555" font-weight="bold">7,500</text>
<text x="119.3" y="485.1" font-size="3.5" text-anchor="middle" fill="#555" font-weight="bold">10,000</text>
<text x="133.3" y="485.1" font-size="3.5" text-anchor="middle" fill="#555" font-weight="bold">12,500</text>
<text x="147.4" y="485.1" font-size="3.5" text-anchor="middle" fill="#555" font-weight="bold">15,000</text>
<text x="161.5" y="485.1" font-size="3.5" text-anchor="middle" fill="#555" font-weight="bold">17,500</text>
<text x="175.6" y="485.1" font-size="3.5" text-anchor="middle" fill="#555" font-weight="bold">20,000</text>
<text x="189.7" y="485.1" font-size="3.5" text-anchor="middle" fill="#555" font-weight="bold">22,500</text>
<text x="129.8" y="489.6" font-size="3.9" text-anchor="middle" fill="#222" font-weight="bold">Rank in Ordered Dataset</text>
<rect x="69.3" y="494.3" width="106.1" height="6.4" fill="#fff" stroke="#7aa07a" stroke-width="0.5"/>
<line x1="70.5" y1="497.6" x2="75.6" y2="497.6" stroke="#44dd44" stroke-width="0.8"/>
<text x="76.6" y="498.90000000000003" font-size="3.95" fill="#222">Enrichment profile</text>
<line x1="110.2" y1="497.6" x2="113.8" y2="497.6" stroke="#222" stroke-width="0.6"/>
<text x="114.8" y="498.90000000000003" font-size="3.95" fill="#222">Hits</text>
<line x1="128.3" y1="497.6" x2="133.3" y2="497.6" stroke="#ccc" stroke-width="0.6"/>
<text x="134.8" y="498.90000000000003" font-size="3.95" fill="#222">Ranking metric scores</text>
<text x="210" y="172.3" font-size="12" font-weight="bold">ES = 0.33</text>
<text x="209.2" y="187" font-size="12" font-weight="bold"><tspan font-style="italic">p</tspan> = 0.39</text>
<text x="213" y="368.9" font-size="12" font-weight="bold">ES = 0.57</text>
<text x="212.8" y="383" font-size="12" font-weight="bold"><tspan font-style="italic">p</tspan> &lt; 0.001</text>
<text x="26.8" y="236" font-size="14" font-weight="bold">(a)</text>
<text x="197.0" y="234" font-size="14" font-weight="bold">(b)</text>
<text x="25.8" y="427.8" font-size="14" font-weight="bold">(a)</text>
<text x="198.2" y="425.7" font-size="14" font-weight="bold">(c)</text>
<rect x="7.15" y="595.90" width="11.65" height="9.43" fill="#a8acf4"/>
<rect x="18.50" y="595.90" width="11.60" height="9.43" fill="#9094f0"/>
<rect x="29.80" y="595.90" width="11.60" height="9.43" fill="#9094f0"/>
<rect x="42.80" y="595.90" width="11.10" height="9.43" fill="#fcdcd8"/>
<rect x="53.60" y="595.90" width="11.30" height="9.43" fill="#fcecea"/>
<rect x="64.60" y="595.90" width="11.70" height="9.43" fill="#fce4e4"/>
<rect x="76.00" y="595.90" width="12.20" height="9.43" fill="#f46464"/>
<rect x="87.90" y="595.90" width="11.20" height="9.43" fill="#f8a8a8"/>
<rect x="98.80" y="595.90" width="12.50" height="9.43" fill="#fcd8d8"/>
<rect x="7.15" y="605.02" width="11.65" height="9.43" fill="#9094f0"/>
<rect x="18.50" y="605.02" width="11.60" height="9.43" fill="#a8acf4"/>
<rect x="29.80" y="605.02" width="11.60" height="9.43" fill="#a8acf4"/>
<rect x="42.80" y="605.02" width="11.10" height="9.43" fill="#fcf0f0"/>
<rect x="53.60" y="605.02" width="11.30" height="9.43" fill="#fdf6f6"/>
<rect x="64.60" y="605.02" width="11.70" height="9.43" fill="#fcf0f2"/>
<rect x="76.00" y="605.02" width="12.20" height="9.43" fill="#fce8e8"/>
<rect x="87.90" y="605.02" width="11.20" height="9.43" fill="#f45858"/>
<rect x="98.80" y="605.02" width="12.50" height="9.43" fill="#f88888"/>
<rect x="7.15" y="614.15" width="11.65" height="9.43" fill="#a8acf4"/>
<rect x="18.50" y="614.15" width="11.60" height="9.43" fill="#a8acf4"/>
<rect x="29.80" y="614.15" width="11.60" height="9.43" fill="#9ca0f2"/>
<rect x="42.80" y="614.15" width="11.10" height="9.43" fill="#dcdcf8"/>
<rect x="53.60" y="614.15" width="11.30" height="9.43" fill="#faf4f6"/>
<rect x="64.60" y="614.15" width="11.70" height="9.43" fill="#e8e8fa"/>
<rect x="76.00" y="614.15" width="12.20" height="9.43" fill="#f47070"/>
<rect x="87.90" y="614.15" width="11.20" height="9.43" fill="#f8a0a0"/>
<rect x="98.80" y="614.15" width="12.50" height="9.43" fill="#f46c6c"/>
<rect x="7.15" y="623.27" width="11.65" height="9.43" fill="#a0a4f2"/>
<rect x="18.50" y="623.27" width="11.60" height="9.43" fill="#a8acf4"/>
<rect x="29.80" y="623.27" width="11.60" height="9.43" fill="#a8acf4"/>
<rect x="42.80" y="623.27" width="11.10" height="9.43" fill="#f4f4fc"/>
<rect x="53.60" y="623.27" width="11.30" height="9.43" fill="#ececfa"/>
<rect x="64.60" y="623.27" width="11.70" height="9.43" fill="#dcdcf6"/>
<rect x="76.00" y="623.27" width="12.20" height="9.43" fill="#f88080"/>
<rect x="87.90" y="623.27" width="11.20" height="9.43" fill="#f46c6c"/>
<rect x="98.80" y="623.27" width="12.50" height="9.43" fill="#f89090"/>
<text transform="translate(12.90,587) rotate(-90) scale(1.11,1)" font-size="9" font-weight="bold">41 3</text>
<text transform="translate(25.16,587) rotate(-90) scale(1.11,1)" font-size="9" font-weight="bold">41 1</text>
<text transform="translate(37.42,587) rotate(-90) scale(1.11,1)" font-size="9" font-weight="bold">41 2</text>
<text transform="translate(49.68,587) rotate(-90) scale(1.11,1)" font-size="9" font-weight="bold">KO 2</text>
<text transform="translate(61.94,587) rotate(-90) scale(1.11,1)" font-size="9" font-weight="bold">KO 1</text>
<text transform="translate(74.20,587) rotate(-90) scale(1.11,1)" font-size="9" font-weight="bold">KO 3</text>
<text transform="translate(86.46,587) rotate(-90) scale(1.11,1)" font-size="9" font-weight="bold">CON 2</text>
<text transform="translate(98.72,587) rotate(-90) scale(1.11,1)" font-size="9" font-weight="bold">CON 3</text>
<text transform="translate(110.98,587) rotate(-90) scale(1.11,1)" font-size="9" font-weight="bold">CON 1</text>
<text x="115.8" y="603" font-size="8" font-weight="bold">Art4</text>
<text x="115.8" y="612.3" font-size="8" font-weight="bold">Ehd3</text>
<text x="115.8" y="621.6" font-size="8" font-weight="bold">Dsg2</text>
<text x="115.8" y="631.0" font-size="8" font-weight="bold">Alcam</text>
<rect x="6.9" y="638.9" width="14.8" height="5.8" fill="#1818d8"/>
<rect x="21.5" y="638.9" width="14.5" height="5.8" fill="#5858ec"/>
<rect x="35.8" y="638.9" width="14.7" height="5.8" fill="#a8acf4"/>
<rect x="66.3" y="638.9" width="14.3" height="5.8" fill="#f8b0b0"/>
<rect x="80.4" y="638.9" width="15.0" height="5.8" fill="#f04c4c"/>
<rect x="95.2" y="638.9" width="14.7" height="5.8" fill="#e00c0c"/>
<text transform="translate(13.9,650.2) scale(1.3,1)" font-size="5.2" font-weight="bold" text-anchor="middle" fill="#111">-3.0</text>
<text transform="translate(28.6,650.2) scale(1.3,1)" font-size="5.2" font-weight="bold" text-anchor="middle" fill="#111">-2.0</text>
<text transform="translate(43,650.2) scale(1.3,1)" font-size="5.2" font-weight="bold" text-anchor="middle" fill="#111">-1.0</text>
<text transform="translate(56.6,650.2) scale(1.3,1)" font-size="5.2" font-weight="bold" text-anchor="middle" fill="#111">0</text>
<text transform="translate(72.7,650.2) scale(1.3,1)" font-size="5.2" font-weight="bold" text-anchor="middle" fill="#111">1.0</text>
<text transform="translate(87.2,650.2) scale(1.3,1)" font-size="5.2" font-weight="bold" text-anchor="middle" fill="#111">2.0</text>
<text transform="translate(101.4,650.2) scale(1.3,1)" font-size="5.2" font-weight="bold" text-anchor="middle" fill="#111">3.0</text>
<rect x="213.6" y="552.3" width="54.6" height="111.8" fill="none" stroke="#555" stroke-width="0.8"/>
<line x1="213.6" y1="551.9" x2="213.6" y2="664.5" stroke="#222" stroke-width="1.1"/>
<line x1="213.6" y1="580.2" x2="268.2" y2="580.2" stroke="#444" stroke-width="0.9"/>
<line x1="213.6" y1="664.1" x2="268.2" y2="664.1" stroke="#333" stroke-width="1"/>
<line x1="209.4" y1="664.1" x2="213.6" y2="664.1" stroke="#222" stroke-width="1"/>
<line x1="211.6" y1="650.1" x2="213.6" y2="650.1" stroke="#222" stroke-width="1"/>
<line x1="209.4" y1="636.2" x2="213.6" y2="636.2" stroke="#222" stroke-width="1"/>
<line x1="211.6" y1="622.2" x2="213.6" y2="622.2" stroke="#222" stroke-width="1"/>
<line x1="209.4" y1="608.2" x2="213.6" y2="608.2" stroke="#222" stroke-width="1"/>
<line x1="211.6" y1="594.2" x2="213.6" y2="594.2" stroke="#222" stroke-width="1"/>
<line x1="209.4" y1="580.2" x2="213.6" y2="580.2" stroke="#222" stroke-width="1"/>
<line x1="211.6" y1="566.3" x2="213.6" y2="566.3" stroke="#222" stroke-width="1"/>
<line x1="209.4" y1="552.3" x2="213.6" y2="552.3" stroke="#222" stroke-width="1"/>
<text x="208.3" y="556.2" font-size="11" font-weight="bold" text-anchor="end">50</text>
<text x="208.3" y="584.1" font-size="11" font-weight="bold" text-anchor="end">0</text>
<text x="208.3" y="612.1" font-size="11" font-weight="bold" text-anchor="end">-50</text>
<text x="208.3" y="640.1" font-size="11" font-weight="bold" text-anchor="end">-100</text>
<text x="208.3" y="668.0" font-size="11" font-weight="bold" text-anchor="end">-150</text>
<line x1="226.7" y1="608.2" x2="233.6" y2="608.2" stroke="#c4c4c4" stroke-width="0.8"/>
<line x1="248.4" y1="567" x2="256.3" y2="567" stroke="#c4c4c4" stroke-width="0.8"/>
<circle cx="230" cy="585.6" r="2.5" fill="#111"/>
<circle cx="230" cy="589.6" r="2.5" fill="#111"/>
<circle cx="230" cy="654.6" r="2.5" fill="#111"/>
<circle cx="252.4" cy="561.3" r="2.5" fill="#111"/>
<circle cx="252.4" cy="571.6" r="2.5" fill="#111"/>
<line x1="225.7" y1="585.4" x2="232.8" y2="585.4" stroke="#1f8f8c" stroke-width="1.8"/>
<line x1="248.4" y1="575" x2="256.3" y2="575" stroke="#1f8f8c" stroke-width="1.8"/>
<text transform="translate(234.6,697.6) rotate(-90)" font-size="11.9" font-weight="bold">Ehd3</text>
<text transform="translate(256.3,704.4) rotate(-90)" font-size="11.5" font-weight="bold">Treml1</text>
<text transform="translate(158.0,668.5) rotate(-90)" font-size="12.1" font-weight="bold">Relative expression</text>
<text transform="translate(173.0,672.0) rotate(-90)" font-size="11.95" font-weight="bold">RUNX1(41-214)/MigR1</text>
<line x1="179.4" y1="522.5" x2="185" y2="522.5" stroke="#bbb" stroke-width="0.7"/>
<text x="197.2" y="526.4" font-size="10.2" font-weight="bold">RT-qPCR (average)</text>
<line x1="178.4" y1="533.8" x2="185.2" y2="533.8" stroke="#1f8f8c" stroke-width="2"/>
<text x="197.2" y="537.4" font-size="10.2" font-weight="bold">microarray</text>
<defs><filter id="bl" x="-20%" y="-100%" width="140%" height="300%"><feGaussianBlur stdDeviation="0.5 0.8"/></filter><filter id="bl3" x="-20%" y="-100%" width="140%" height="300%"><feGaussianBlur stdDeviation="0.4 0.35"/></filter></defs>
<rect x="379.0" y="544.3" width="93.7" height="22.1" fill="#aaaaaa"/>
<rect x="383.5" y="555.2" width="25.0" height="2.0" rx="1.0" fill="#383838" opacity="0.9" filter="url(#bl3)"/>
<rect x="441.7" y="553.8" width="25.8" height="3.1" rx="1.0" fill="#1c1c1c" opacity="0.95" filter="url(#bl)"/>
<rect x="379.0" y="544.3" width="93.7" height="22.1" fill="none" stroke="#2a2a2a" stroke-width="1.3"/>
<rect x="379.0" y="575.6" width="93.7" height="28.7" fill="#a2a2a2"/>
<rect x="384" y="577.6" width="25.5" height="5.6" rx="1.0" fill="#1e1e1e" opacity="0.95" filter="url(#bl)"/>
<rect x="384" y="584.0" width="25.5" height="5.6" rx="1.0" fill="#222" opacity="0.95" filter="url(#bl)"/>
<rect x="384" y="591.2" width="25.5" height="2.8" rx="1.0" fill="#4a4a4a" opacity="0.85" filter="url(#bl)"/>
<rect x="384" y="594.6" width="25.5" height="2.8" rx="1.0" fill="#555" opacity="0.8" filter="url(#bl)"/>
<rect x="445" y="578.6" width="22.0" height="4.2" rx="1.0" fill="#2e2e2e" opacity="0.9" filter="url(#bl)"/>
<rect x="445" y="584.6" width="22.0" height="4.6" rx="1.0" fill="#262626" opacity="0.9" filter="url(#bl)"/>
<rect x="445" y="591.6" width="22.0" height="2.6" rx="1.0" fill="#5a5a5a" opacity="0.75" filter="url(#bl)"/>
<rect x="445" y="594.6" width="22.0" height="2.4" rx="1.0" fill="#6a6a6a" opacity="0.7" filter="url(#bl3)"/>
<rect x="379.0" y="575.6" width="93.7" height="28.7" fill="none" stroke="#2a2a2a" stroke-width="1.3"/>
<rect x="379.0" y="613.1" width="93.7" height="24.2" fill="#a8a8a8"/>
<rect x="384" y="616.6" width="25.5" height="4.0" rx="1.0" fill="#444" opacity="0.85" filter="url(#bl)"/>
<rect x="384" y="622.4" width="25.5" height="4.4" rx="1.0" fill="#4a4a4a" opacity="0.8" filter="url(#bl)"/>
<rect x="384" y="629.8" width="25.5" height="3.0" rx="1.0" fill="#7a7a7a" opacity="0.5" filter="url(#bl)"/>
<rect x="446" y="617.0" width="21.0" height="3.2" rx="1.0" fill="#555" opacity="0.8" filter="url(#bl)"/>
<rect x="446" y="622.6" width="21.0" height="3.6" rx="1.0" fill="#5a5a5a" opacity="0.75" filter="url(#bl)"/>
<rect x="446" y="629.8" width="21.0" height="2.8" rx="1.0" fill="#858585" opacity="0.45" filter="url(#bl)"/>
<rect x="379.0" y="613.1" width="93.7" height="24.2" fill="none" stroke="#2a2a2a" stroke-width="1.3"/>
<rect x="379.0" y="646.4" width="93.7" height="19.4" fill="#a8a8a8"/>
<rect x="384.7" y="654.7" width="23.0" height="2.0" rx="1.0" fill="#2a2a2a" opacity="0.95" filter="url(#bl3)"/>
<rect x="442.7" y="654.5" width="21.6" height="2.0" rx="1.0" fill="#2a2a2a" opacity="0.95" filter="url(#bl3)"/>
<rect x="379.0" y="646.4" width="93.7" height="19.4" fill="none" stroke="#2a2a2a" stroke-width="1.3"/>
<rect x="379.0" y="674.7" width="93.7" height="18.8" fill="#9e9e9e"/>
<rect x="379.0" y="674.7" width="93.7" height="18.8" fill="none" stroke="#2a2a2a" stroke-width="1.3"/>
<path d="M381.2,684.6 C381.2,681.6 383,681.2 395,681.0 C404,681.0 410.6,680.8 410.6,684.2 C410.6,687.6 405,688.3 395,688.3 C385,688.5 381.2,688.2 381.2,684.6 Z" fill="#050505" filter="url(#bl)"/>
<path d="M439.3,683.8 C439.3,680.6 443,680.0 453,680.0 C462,679.8 468.2,679.8 468.2,682.8 C468.2,686.6 463,687.7 453,687.7 C444,687.9 439.3,687.6 439.3,683.8 Z" fill="#050505" filter="url(#bl)"/>
<polyline points="480.8,541.2 474.8,545.0 480.8,548.8" fill="none" stroke="#111" stroke-width="1.15"/><line x1="474.8" y1="545.0" x2="479.5" y2="545.0" stroke="#666" stroke-width="0.7"/><circle cx="475.2" cy="545.0" r="0.8" fill="#000"/>
<polyline points="480.8,558.9 474.8,562.7 480.8,566.5" fill="none" stroke="#111" stroke-width="1.15"/><line x1="474.8" y1="562.7" x2="479.5" y2="562.7" stroke="#666" stroke-width="0.7"/><circle cx="475.2" cy="562.7" r="0.8" fill="#000"/>
<polyline points="480.8,575.6 474.8,579.4 480.8,583.2" fill="none" stroke="#111" stroke-width="1.15"/><line x1="474.8" y1="579.4" x2="479.5" y2="579.4" stroke="#666" stroke-width="0.7"/><circle cx="475.2" cy="579.4" r="0.8" fill="#000"/>
<polyline points="480.8,592.9 474.8,596.7 480.8,600.5" fill="none" stroke="#111" stroke-width="1.15"/><line x1="474.8" y1="596.7" x2="479.5" y2="596.7" stroke="#666" stroke-width="0.7"/><circle cx="475.2" cy="596.7" r="0.8" fill="#000"/>
<polyline points="480.8,609.6 474.8,613.4 480.8,617.2" fill="none" stroke="#111" stroke-width="1.15"/><line x1="474.8" y1="613.4" x2="479.5" y2="613.4" stroke="#666" stroke-width="0.7"/><circle cx="475.2" cy="613.4" r="0.8" fill="#000"/>
<polyline points="480.8,627.9 474.8,631.7 480.8,635.5" fill="none" stroke="#111" stroke-width="1.15"/><line x1="474.8" y1="631.7" x2="479.5" y2="631.7" stroke="#666" stroke-width="0.7"/><circle cx="475.2" cy="631.7" r="0.8" fill="#000"/>
<polyline points="480.8,652.6 474.8,656.4 480.8,660.2" fill="none" stroke="#111" stroke-width="1.15"/><line x1="474.8" y1="656.4" x2="479.5" y2="656.4" stroke="#666" stroke-width="0.7"/><circle cx="475.2" cy="656.4" r="0.8" fill="#000"/>
<polyline points="480.8,672.4 474.8,676.2 480.8,680.0" fill="none" stroke="#111" stroke-width="1.15"/><line x1="474.8" y1="676.2" x2="479.5" y2="676.2" stroke="#666" stroke-width="0.7"/><circle cx="475.2" cy="676.2" r="0.8" fill="#000"/>
<polyline points="480.8,688.6 474.8,692.4 480.8,696.2" fill="none" stroke="#111" stroke-width="1.15"/><line x1="474.8" y1="692.4" x2="479.5" y2="692.4" stroke="#666" stroke-width="0.7"/><circle cx="475.2" cy="692.4" r="0.8" fill="#000"/>
<text x="490.3" y="547.7" font-size="10" font-weight="bold">75 kD</text>
<text x="490.3" y="565.3" font-size="10" font-weight="bold">55 kD</text>
<text x="490.3" y="582.0" font-size="10" font-weight="bold">43 kD</text>
<text x="490.3" y="599.3" font-size="10" font-weight="bold">34 kD</text>
<text x="490.3" y="616.0" font-size="10" font-weight="bold">43 kD</text>
<text x="490.3" y="634.3" font-size="10" font-weight="bold">34 kD</text>
<text x="490.3" y="659.0" font-size="10" font-weight="bold">55 kD</text>
<text x="490.3" y="678.8" font-size="10" font-weight="bold">43 kD</text>
<text x="490.3" y="695.0" font-size="10" font-weight="bold">34 kD</text>
<text x="373.9" y="561.4" font-size="12.2" font-weight="bold" text-anchor="end">Ehd3</text>
<text x="373.9" y="588.5" font-size="12.2" font-weight="bold" text-anchor="end">Treml1</text>
<text x="373.9" y="603.2" font-size="12.2" font-weight="bold" text-anchor="end">(long exposure)</text>
<text x="373.9" y="624.6" font-size="12.2" font-weight="bold" text-anchor="end">Treml1</text>
<text x="373.9" y="639.3" font-size="12.2" font-weight="bold" text-anchor="end">(short exposure)</text>
<text x="373.9" y="659.6" font-size="12.2" font-weight="bold" text-anchor="end">Tubulin</text>
<text x="373.9" y="687.9" font-size="12.2" font-weight="bold" text-anchor="end">GAPDH</text>
<text x="394.7" y="523.9" font-size="11.9" font-weight="bold" text-anchor="middle">RUNX1</text>
<text x="394.8" y="537.6" font-size="12.2" font-weight="bold" text-anchor="middle">(41-214)</text>
<text x="452.8" y="536.2" font-size="11.9" font-weight="bold" text-anchor="middle">Control</text>
</svg>
</body></html>
